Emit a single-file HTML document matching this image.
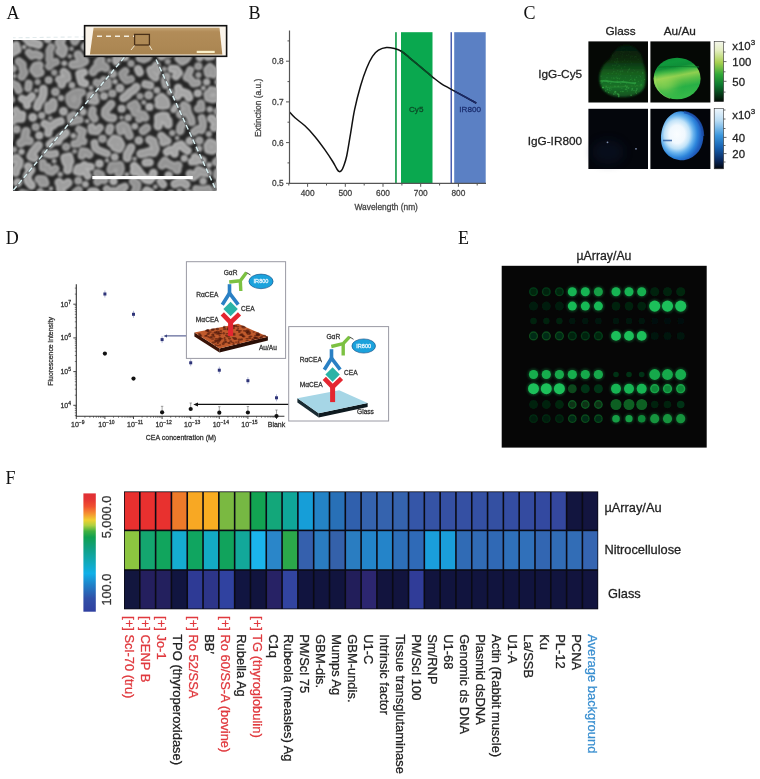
<!DOCTYPE html>
<html><head><meta charset="utf-8"><style>html,body{margin:0;padding:0;background:#fff;width:760px;height:779px;overflow:hidden}svg{display:block;filter:blur(0.4px)}</style></head><body>
<svg width="760" height="779" viewBox="0 0 760 779">
<defs>

<filter id="blur5" x="-50%" y="-50%" width="200%" height="200%"><feGaussianBlur stdDeviation="5"/></filter>
<filter id="blur1"><feGaussianBlur stdDeviation="1"/></filter>
<filter id="blur07"><feGaussianBlur stdDeviation="0.75"/></filter>
<filter id="blur09"><feGaussianBlur stdDeviation="0.95"/></filter>
<filter id="blur05"><feGaussianBlur stdDeviation="0.5"/></filter>
<filter id="blur2" x="-50%" y="-50%" width="200%" height="200%"><feGaussianBlur stdDeviation="2"/></filter>
<linearGradient id="cb1" x1="0" y1="0" x2="0" y2="1">
  <stop offset="0" stop-color="#f4f6ec"/>
  <stop offset="0.15" stop-color="#e4eec0"/>
  <stop offset="0.35" stop-color="#a8d050"/>
  <stop offset="0.55" stop-color="#30a838"/>
  <stop offset="0.72" stop-color="#0c7a30"/>
  <stop offset="0.88" stop-color="#063a18"/>
  <stop offset="1" stop-color="#020a04"/>
</linearGradient>
<linearGradient id="cb2" x1="0" y1="0" x2="0" y2="1">
  <stop offset="0" stop-color="#eef6fc"/>
  <stop offset="0.2" stop-color="#b8dcf4"/>
  <stop offset="0.45" stop-color="#3a96dc"/>
  <stop offset="0.65" stop-color="#1660b0"/>
  <stop offset="0.85" stop-color="#0a2a60"/>
  <stop offset="1" stop-color="#02060e"/>
</linearGradient>
<linearGradient id="cbF" x1="0" y1="0" x2="0" y2="1">
  <stop offset="0" stop-color="#e03035"/>
  <stop offset="0.05" stop-color="#e43434"/>
  <stop offset="0.11" stop-color="#f05030"/>
  <stop offset="0.17" stop-color="#f59030"/>
  <stop offset="0.225" stop-color="#f0d030"/>
  <stop offset="0.27" stop-color="#b0d040"/>
  <stop offset="0.32" stop-color="#40b040"/>
  <stop offset="0.37" stop-color="#10a050"/>
  <stop offset="0.46" stop-color="#10a080"/>
  <stop offset="0.56" stop-color="#10a8b0"/>
  <stop offset="0.676" stop-color="#10b0e8"/>
  <stop offset="0.775" stop-color="#2080c8"/>
  <stop offset="0.887" stop-color="#3050a8"/>
  <stop offset="1" stop-color="#3040a0"/>
</linearGradient>
<linearGradient id="au5" x1="0" y1="0" x2="0.22" y2="1">
  <stop offset="0" stop-color="#0c8a34"/>
  <stop offset="0.18" stop-color="#10983c"/>
  <stop offset="0.3" stop-color="#0e8e38"/>
  <stop offset="0.4" stop-color="#38b444"/>
  <stop offset="0.52" stop-color="#90d050"/>
  <stop offset="0.64" stop-color="#5cc048"/>
  <stop offset="0.8" stop-color="#28b046"/>
  <stop offset="1" stop-color="#34b848"/>
</linearGradient>
<radialGradient id="au8" cx="0.38" cy="0.47" r="0.66">
  <stop offset="0" stop-color="#fafdff"/>
  <stop offset="0.28" stop-color="#f0f8fe"/>
  <stop offset="0.45" stop-color="#c0e2f8"/>
  <stop offset="0.58" stop-color="#6ab4ee"/>
  <stop offset="0.72" stop-color="#2e86dc"/>
  <stop offset="0.85" stop-color="#2060c0"/>
  <stop offset="1" stop-color="#1a4aa0"/>
</radialGradient>
<linearGradient id="gl5" x1="0" y1="0" x2="0" y2="1">
  <stop offset="0" stop-color="#051806"/>
  <stop offset="0.3" stop-color="#0a2c0e"/>
  <stop offset="0.55" stop-color="#15601f"/>
  <stop offset="0.8" stop-color="#1a7228"/>
  <stop offset="1" stop-color="#125020"/>
</linearGradient>


<clipPath id="semclip"><rect x="13" y="40" width="203.5" height="151"/></clipPath>
<linearGradient id="slide" x1="0" y1="0" x2="0" y2="1"><stop offset="0" stop-color="#c4a474"/><stop offset="0.15" stop-color="#b28c58"/><stop offset="0.7" stop-color="#ad8854"/><stop offset="1" stop-color="#a88450"/></linearGradient>
<clipPath id="cpg"><rect x="401" y="30" width="31.5" height="160"/></clipPath><clipPath id="cpb"><rect x="454.2" y="30" width="31.5" height="160"/></clipPath>
<clipPath id="cpau5"><ellipse cx="677.1" cy="78.5" rx="23.5" ry="20.8"/></clipPath></defs>
<rect width="760" height="779" fill="#fff"/>
<text x="6.6" y="18.8" font-family="'Liberation Serif', serif" font-size="18" fill="#111">A</text>
<text x="248.4" y="18.8" font-family="'Liberation Serif', serif" font-size="18" fill="#111">B</text>
<text x="523.4" y="18.8" font-family="'Liberation Serif', serif" font-size="18" fill="#111">C</text>
<text x="5.8" y="243.6" font-family="'Liberation Serif', serif" font-size="18" fill="#111">D</text>
<text x="458.0" y="243.7" font-family="'Liberation Serif', serif" font-size="18" fill="#111">E</text>
<text x="5.6" y="483.7" font-family="'Liberation Serif', serif" font-size="18" fill="#111">F</text>
<g clip-path="url(#semclip)"><rect x="13" y="40" width="203.5" height="151" fill="#262626"/><g filter="url(#blur09)" stroke-linecap="round" stroke-linejoin="round" fill="none">
<path d="M140.7 153.9 L144.2 153.2 L148.9 151.7 L153.7 152.6 L155.5 148.9 L153.7 144.9 L153.2 141.4 L149.6 139.7" stroke="rgb(172,172,172)" stroke-width="8.9"/><path d="M140.7 153.9 L144.2 153.2 L148.9 151.7 L153.7 152.6 L155.5 148.9 L153.7 144.9 L153.2 141.4 L149.6 139.7" stroke="rgb(156,156,156)" stroke-width="4.4"/>
<path d="M42.8 162.7 L42.9 167.7 L47.5 167.1 L48.0 170.8 L51.8 171.9 L55.4 168.7" stroke="rgb(165,165,165)" stroke-width="8.0"/><path d="M42.8 162.7 L42.9 167.7 L47.5 167.1 L48.0 170.8 L51.8 171.9 L55.4 168.7" stroke="rgb(149,149,149)" stroke-width="3.8"/>
<path d="M208.0 145.8 L208.6 149.5 L212.2 150.2 L216.1 148.2 L213.6 144.5 L209.9 142.8" stroke="rgb(175,175,175)" stroke-width="9.2"/><path d="M208.0 145.8 L208.6 149.5 L212.2 150.2 L216.1 148.2 L213.6 144.5 L209.9 142.8" stroke="rgb(159,159,159)" stroke-width="4.5"/>
<path d="M156.3 65.4 L154.9 68.6 L150.4 70.1 L152.1 74.5 L155.4 77.4 M154.9 68.6 L157.0 71.7" stroke="rgb(174,174,174)" stroke-width="8.5"/><path d="M156.3 65.4 L154.9 68.6 L150.4 70.1 L152.1 74.5 L155.4 77.4 M154.9 68.6 L157.0 71.7" stroke="rgb(158,158,158)" stroke-width="4.1"/>
<path d="M81.8 92.4 L77.2 92.1 L73.5 93.5 L69.4 96.4 L69.6 100.6 L71.3 103.9 L75.7 105.3 L77.8 101.3 M77.2 92.1 L77.9 97.0" stroke="rgb(161,161,161)" stroke-width="8.5"/><path d="M81.8 92.4 L77.2 92.1 L73.5 93.5 L69.4 96.4 L69.6 100.6 L71.3 103.9 L75.7 105.3 L77.8 101.3 M77.2 92.1 L77.9 97.0" stroke="rgb(145,145,145)" stroke-width="4.1"/>
<path d="M26.1 131.5 L25.0 136.1 L24.6 140.2 L29.4 140.9 M24.6 140.2 L20.7 143.2" stroke="rgb(164,164,164)" stroke-width="9.1"/><path d="M26.1 131.5 L25.0 136.1 L24.6 140.2 L29.4 140.9 M24.6 140.2 L20.7 143.2" stroke="rgb(148,148,148)" stroke-width="4.5"/>
<path d="M100.9 59.7 L97.9 63.0 L99.4 67.0 L95.2 68.6 L93.1 71.9 M97.9 63.0 L102.3 65.2 L105.6 67.8" stroke="rgb(162,162,162)" stroke-width="9.0"/><path d="M100.9 59.7 L97.9 63.0 L99.4 67.0 L95.2 68.6 L93.1 71.9 M97.9 63.0 L102.3 65.2 L105.6 67.8" stroke="rgb(146,146,146)" stroke-width="4.4"/>
<path d="M113.0 117.9 L108.4 117.4 L105.1 114.3 L105.4 110.3 L108.2 107.5 L111.2 104.0" stroke="rgb(169,169,169)" stroke-width="8.6"/><path d="M113.0 117.9 L108.4 117.4 L105.1 114.3 L105.4 110.3 L108.2 107.5 L111.2 104.0" stroke="rgb(153,153,153)" stroke-width="4.2"/>
<path d="M211.4 90.1 L215.2 91.0 L218.0 94.0 L216.6 98.3 L212.7 99.2 L208.2 98.1 L207.4 94.1 L211.4 91.4" stroke="rgb(171,171,171)" stroke-width="8.1"/><path d="M211.4 90.1 L215.2 91.0 L218.0 94.0 L216.6 98.3 L212.7 99.2 L208.2 98.1 L207.4 94.1 L211.4 91.4" stroke="rgb(155,155,155)" stroke-width="3.9"/>
<path d="M211.3 118.4 L214.7 121.7 L218.3 121.9 L221.7 124.3 L224.2 128.5 M218.3 121.9 L217.2 125.6 L213.9 127.5" stroke="rgb(179,179,179)" stroke-width="8.5"/><path d="M211.3 118.4 L214.7 121.7 L218.3 121.9 L221.7 124.3 L224.2 128.5 M218.3 121.9 L217.2 125.6 L213.9 127.5" stroke="rgb(163,163,163)" stroke-width="4.1"/>
<path d="M142.4 42.7 L139.8 45.2 L136.9 42.1 L134.6 38.7 L130.7 36.6 M139.8 45.2 L139.5 48.7" stroke="rgb(168,168,168)" stroke-width="8.5"/><path d="M142.4 42.7 L139.8 45.2 L136.9 42.1 L134.6 38.7 L130.7 36.6 M139.8 45.2 L139.5 48.7" stroke="rgb(152,152,152)" stroke-width="4.1"/>
<path d="M190.0 173.8 L193.2 176.8 L196.7 174.4 L198.5 170.4 L202.9 172.3 L207.5 172.9" stroke="rgb(171,171,171)" stroke-width="8.8"/><path d="M190.0 173.8 L193.2 176.8 L196.7 174.4 L198.5 170.4 L202.9 172.3 L207.5 172.9" stroke="rgb(155,155,155)" stroke-width="4.3"/>
<path d="M28.2 166.6 L31.0 170.0 L28.5 173.3 L26.9 176.7 L28.2 181.5 L31.4 185.3" stroke="rgb(179,179,179)" stroke-width="8.7"/><path d="M28.2 166.6 L31.0 170.0 L28.5 173.3 L26.9 176.7 L28.2 181.5 L31.4 185.3" stroke="rgb(163,163,163)" stroke-width="4.2"/>
<path d="M62.1 39.1 L59.1 42.1 L61.2 46.0 L63.7 49.0 L62.4 53.6 M63.7 49.0 L59.7 51.4" stroke="rgb(168,168,168)" stroke-width="9.1"/><path d="M62.1 39.1 L59.1 42.1 L61.2 46.0 L63.7 49.0 L62.4 53.6 M63.7 49.0 L59.7 51.4" stroke="rgb(152,152,152)" stroke-width="4.5"/>
<path d="M187.5 150.7 L183.8 148.2 L181.1 144.5 L176.7 146.1 L174.5 149.8 L174.6 153.7 M174.5 149.8 L169.8 149.8 L166.9 151.8" stroke="rgb(181,181,181)" stroke-width="8.2"/><path d="M187.5 150.7 L183.8 148.2 L181.1 144.5 L176.7 146.1 L174.5 149.8 L174.6 153.7 M174.5 149.8 L169.8 149.8 L166.9 151.8" stroke="rgb(165,165,165)" stroke-width="4.0"/>
<path d="M12.1 159.8 L16.2 158.0 L19.5 161.4 L18.7 165.7 L16.0 169.0 L15.8 172.7" stroke="rgb(175,175,175)" stroke-width="8.4"/><path d="M12.1 159.8 L16.2 158.0 L19.5 161.4 L18.7 165.7 L16.0 169.0 L15.8 172.7" stroke="rgb(159,159,159)" stroke-width="4.1"/>
<path d="M123.5 43.7 L119.3 42.0 L117.6 38.8 L120.0 35.8 L119.8 30.9 M120.0 35.8 L116.8 34.0" stroke="rgb(177,177,177)" stroke-width="8.8"/><path d="M123.5 43.7 L119.3 42.0 L117.6 38.8 L120.0 35.8 L119.8 30.9 M120.0 35.8 L116.8 34.0" stroke="rgb(161,161,161)" stroke-width="4.3"/>
<path d="M31.9 96.3 L29.2 99.4 L26.0 100.8 L27.1 105.2 M26.0 100.8 L22.0 98.6" stroke="rgb(180,180,180)" stroke-width="7.9"/><path d="M31.9 96.3 L29.2 99.4 L26.0 100.8 L27.1 105.2 M26.0 100.8 L22.0 98.6" stroke="rgb(164,164,164)" stroke-width="3.8"/>
<path d="M125.3 71.1 L122.0 73.8 L123.4 77.4 L126.7 80.6 L131.0 79.1" stroke="rgb(162,162,162)" stroke-width="7.9"/><path d="M125.3 71.1 L122.0 73.8 L123.4 77.4 L126.7 80.6 L131.0 79.1" stroke="rgb(146,146,146)" stroke-width="3.8"/>
<path d="M106.8 189.2 L108.9 192.1 L113.7 190.9 L117.3 192.3 L120.3 188.4 L124.7 186.7 M120.3 188.4 L122.4 191.8" stroke="rgb(171,171,171)" stroke-width="8.0"/><path d="M106.8 189.2 L108.9 192.1 L113.7 190.9 L117.3 192.3 L120.3 188.4 L124.7 186.7 M120.3 188.4 L122.4 191.8" stroke="rgb(155,155,155)" stroke-width="3.8"/>
<path d="M177.4 96.1 L179.0 92.3 L183.2 92.4 L187.4 93.8 L189.0 97.5 M179.0 92.3 L178.3 88.1" stroke="rgb(181,181,181)" stroke-width="8.8"/><path d="M177.4 96.1 L179.0 92.3 L183.2 92.4 L187.4 93.8 L189.0 97.5 M179.0 92.3 L178.3 88.1" stroke="rgb(165,165,165)" stroke-width="4.3"/>
<path d="M169.8 36.1 L171.7 32.3 L169.3 28.6 L165.0 30.7 L162.1 27.7 L160.0 24.7" stroke="rgb(169,169,169)" stroke-width="8.5"/><path d="M169.8 36.1 L171.7 32.3 L169.3 28.6 L165.0 30.7 L162.1 27.7 L160.0 24.7" stroke="rgb(153,153,153)" stroke-width="4.1"/>
<path d="M81.8 155.6 L82.7 151.4 L86.3 152.0 L89.3 154.6" stroke="rgb(165,165,165)" stroke-width="8.2"/><path d="M81.8 155.6 L82.7 151.4 L86.3 152.0 L89.3 154.6" stroke="rgb(149,149,149)" stroke-width="4.0"/>
<path d="M85.4 46.6 L89.9 47.3 L89.6 51.7 L93.2 51.6 L93.1 47.3 L97.4 47.6 M89.9 47.3 L93.4 46.2" stroke="rgb(181,181,181)" stroke-width="9.2"/><path d="M85.4 46.6 L89.9 47.3 L89.6 51.7 L93.2 51.6 L93.1 47.3 L97.4 47.6 M89.9 47.3 L93.4 46.2" stroke="rgb(165,165,165)" stroke-width="4.5"/>
<path d="M21.7 76.6 L24.4 72.5 L22.5 68.4 L22.6 64.6 L18.8 61.5" stroke="rgb(162,162,162)" stroke-width="8.4"/><path d="M21.7 76.6 L24.4 72.5 L22.5 68.4 L22.6 64.6 L18.8 61.5" stroke="rgb(146,146,146)" stroke-width="4.1"/>
<path d="M190.2 70.1 L188.3 74.3 L186.6 77.6 L190.8 79.4 L193.3 83.6 L197.4 82.8" stroke="rgb(168,168,168)" stroke-width="7.8"/><path d="M190.2 70.1 L188.3 74.3 L186.6 77.6 L190.8 79.4 L193.3 83.6 L197.4 82.8" stroke="rgb(152,152,152)" stroke-width="3.8"/>
<path d="M99.7 127.7 L96.8 131.3 L92.0 130.8 L91.5 127.2" stroke="rgb(172,172,172)" stroke-width="8.1"/><path d="M99.7 127.7 L96.8 131.3 L92.0 130.8 L91.5 127.2" stroke="rgb(156,156,156)" stroke-width="3.9"/>
<path d="M168.1 124.4 L167.9 120.9 L163.6 119.5 L162.5 116.2 L158.5 117.3 L158.8 122.0 L158.1 126.0 M163.6 119.5 L165.6 116.2" stroke="rgb(177,177,177)" stroke-width="9.1"/><path d="M168.1 124.4 L167.9 120.9 L163.6 119.5 L162.5 116.2 L158.5 117.3 L158.8 122.0 L158.1 126.0 M163.6 119.5 L165.6 116.2" stroke="rgb(161,161,161)" stroke-width="4.4"/>
<path d="M183.8 105.3 L187.0 107.3 L187.5 111.4 L188.9 115.1 L190.9 118.4 L191.7 122.1 M187.5 111.4 L184.0 111.5 L180.1 114.3" stroke="rgb(166,166,166)" stroke-width="8.2"/><path d="M183.8 105.3 L187.0 107.3 L187.5 111.4 L188.9 115.1 L190.9 118.4 L191.7 122.1 M187.5 111.4 L184.0 111.5 L180.1 114.3" stroke="rgb(150,150,150)" stroke-width="3.9"/>
<path d="M215.8 41.2 L212.9 38.2 L208.3 39.3 L205.6 42.6 L200.9 42.6 L196.7 44.6" stroke="rgb(181,181,181)" stroke-width="8.6"/><path d="M215.8 41.2 L212.9 38.2 L208.3 39.3 L205.6 42.6 L200.9 42.6 L196.7 44.6" stroke="rgb(165,165,165)" stroke-width="4.2"/>
<path d="M153.4 173.2 L152.3 176.7 L149.5 180.2 L146.0 179.5 L142.9 176.4 L140.0 173.3 L137.5 169.6 L134.2 166.2 M137.5 169.6 L134.0 171.6" stroke="rgb(181,181,181)" stroke-width="8.7"/><path d="M153.4 173.2 L152.3 176.7 L149.5 180.2 L146.0 179.5 L142.9 176.4 L140.0 173.3 L137.5 169.6 L134.2 166.2 M137.5 169.6 L134.0 171.6" stroke="rgb(165,165,165)" stroke-width="4.2"/>
<path d="M171.8 68.9 L176.2 69.1 L178.9 72.8 L175.9 76.2" stroke="rgb(179,179,179)" stroke-width="8.2"/><path d="M171.8 68.9 L176.2 69.1 L178.9 72.8 L175.9 76.2" stroke="rgb(163,163,163)" stroke-width="4.0"/>
<path d="M138.2 69.2 L139.7 72.4" stroke="rgb(179,179,179)" stroke-width="8.5"/><path d="M138.2 69.2 L139.7 72.4" stroke="rgb(163,163,163)" stroke-width="4.1"/>
<path d="M129.5 135.6 L127.8 131.8 L126.3 127.2 L123.0 125.1 L119.9 126.8 L120.8 131.0" stroke="rgb(165,165,165)" stroke-width="8.7"/><path d="M129.5 135.6 L127.8 131.8 L126.3 127.2 L123.0 125.1 L119.9 126.8 L120.8 131.0" stroke="rgb(149,149,149)" stroke-width="4.2"/>
<path d="M100.8 87.8 L102.2 84.5 L103.8 80.1 L107.6 81.4 L107.8 85.8 L104.0 86.5 L99.8 84.2 L96.5 82.7" stroke="rgb(163,163,163)" stroke-width="7.9"/><path d="M100.8 87.8 L102.2 84.5 L103.8 80.1 L107.6 81.4 L107.8 85.8 L104.0 86.5 L99.8 84.2 L96.5 82.7" stroke="rgb(147,147,147)" stroke-width="3.8"/>
<path d="M130.6 106.1 L134.9 103.8 L137.1 107.6 L133.9 109.4 L135.0 112.8 L138.9 114.0 L143.4 114.6 L145.4 117.6 M138.9 114.0 L139.2 118.9" stroke="rgb(164,164,164)" stroke-width="8.3"/><path d="M130.6 106.1 L134.9 103.8 L137.1 107.6 L133.9 109.4 L135.0 112.8 L138.9 114.0 L143.4 114.6 L145.4 117.6 M138.9 114.0 L139.2 118.9" stroke="rgb(148,148,148)" stroke-width="4.0"/>
<path d="M114.5 146.8 L119.1 148.6 L120.9 144.9 L118.6 140.5 L114.2 139.1 L111.1 143.0 M114.2 139.1 L115.1 143.8" stroke="rgb(174,174,174)" stroke-width="8.9"/><path d="M114.5 146.8 L119.1 148.6 L120.9 144.9 L118.6 140.5 L114.2 139.1 L111.1 143.0 M114.2 139.1 L115.1 143.8" stroke="rgb(158,158,158)" stroke-width="4.3"/>
<path d="M84.2 164.9 L83.0 168.2 L80.3 172.3 L76.8 171.4 L77.9 167.8 L81.3 166.9 L86.1 166.0 L90.8 166.8 M83.0 168.2 L85.4 171.6 L87.7 175.8" stroke="rgb(180,180,180)" stroke-width="7.8"/><path d="M84.2 164.9 L83.0 168.2 L80.3 172.3 L76.8 171.4 L77.9 167.8 L81.3 166.9 L86.1 166.0 L90.8 166.8 M83.0 168.2 L85.4 171.6 L87.7 175.8" stroke="rgb(164,164,164)" stroke-width="3.7"/>
<path d="M162.0 165.2 L164.9 161.1 L167.7 163.7 L171.2 165.5 L174.9 166.9 L177.1 169.8 M174.9 166.9 L178.1 165.4" stroke="rgb(164,164,164)" stroke-width="9.0"/><path d="M162.0 165.2 L164.9 161.1 L167.7 163.7 L171.2 165.5 L174.9 166.9 L177.1 169.8 M174.9 166.9 L178.1 165.4" stroke="rgb(148,148,148)" stroke-width="4.4"/>
<path d="M59.0 182.3 L60.5 185.6 L65.0 185.2 L68.0 182.8 M60.5 185.6 L60.6 189.7 L62.3 194.3" stroke="rgb(174,174,174)" stroke-width="9.1"/><path d="M59.0 182.3 L60.5 185.6 L65.0 185.2 L68.0 182.8 M60.5 185.6 L60.6 189.7 L62.3 194.3" stroke="rgb(158,158,158)" stroke-width="4.5"/>
<path d="M213.3 74.3 L213.4 70.2 L209.9 67.3 L207.5 69.9 L208.3 73.6" stroke="rgb(167,167,167)" stroke-width="8.6"/><path d="M213.3 74.3 L213.4 70.2 L209.9 67.3 L207.5 69.9 L208.3 73.6" stroke="rgb(151,151,151)" stroke-width="4.2"/>
<path d="M176.7 44.9 L180.5 42.2 L184.3 40.4 L183.5 36.8" stroke="rgb(178,178,178)" stroke-width="8.5"/><path d="M176.7 44.9 L180.5 42.2 L184.3 40.4 L183.5 36.8" stroke="rgb(162,162,162)" stroke-width="4.1"/>
<path d="M209.9 193.1 L208.2 188.9 L204.6 190.2 L200.9 189.8 L196.3 189.2 M204.6 190.2 L204.2 194.4" stroke="rgb(166,166,166)" stroke-width="8.2"/><path d="M209.9 193.1 L208.2 188.9 L204.6 190.2 L200.9 189.8 L196.3 189.2 M204.6 190.2 L204.2 194.4" stroke="rgb(150,150,150)" stroke-width="4.0"/>
<path d="M39.4 55.8 L35.4 54.0 L31.8 55.7 L29.0 52.6" stroke="rgb(165,165,165)" stroke-width="8.2"/><path d="M39.4 55.8 L35.4 54.0 L31.8 55.7 L29.0 52.6" stroke="rgb(149,149,149)" stroke-width="3.9"/>
<path d="M44.6 123.8 L47.9 125.7 L52.8 125.8 L56.0 122.7 L60.7 121.3 M47.9 125.7 L48.9 129.5 L48.3 133.2" stroke="rgb(177,177,177)" stroke-width="8.2"/><path d="M44.6 123.8 L47.9 125.7 L52.8 125.8 L56.0 122.7 L60.7 121.3 M47.9 125.7 L48.9 129.5 L48.3 133.2" stroke="rgb(161,161,161)" stroke-width="3.9"/>
<path d="M72.8 64.6 L76.8 64.3 L80.4 63.5 L84.7 61.2 M80.4 63.5 L80.5 58.5 L78.1 54.7" stroke="rgb(166,166,166)" stroke-width="9.1"/><path d="M72.8 64.6 L76.8 64.3 L80.4 63.5 L84.7 61.2 M80.4 63.5 L80.5 58.5 L78.1 54.7" stroke="rgb(150,150,150)" stroke-width="4.5"/>
<path d="M38.5 44.5 L34.1 43.1 L30.3 42.6 L27.8 39.6 L24.5 36.5 L25.3 32.4 M27.8 39.6 L31.0 36.4 L31.9 31.8" stroke="rgb(178,178,178)" stroke-width="9.1"/><path d="M38.5 44.5 L34.1 43.1 L30.3 42.6 L27.8 39.6 L24.5 36.5 L25.3 32.4 M27.8 39.6 L31.0 36.4 L31.9 31.8" stroke="rgb(162,162,162)" stroke-width="4.5"/>
<path d="M110.8 169.9 L112.1 166.1 L115.8 166.3 L119.8 165.3 L120.5 168.9 L118.9 173.3" stroke="rgb(160,160,160)" stroke-width="9.0"/><path d="M110.8 169.9 L112.1 166.1 L115.8 166.3 L119.8 165.3 L120.5 168.9 L118.9 173.3" stroke="rgb(144,144,144)" stroke-width="4.4"/>
<path d="M119.9 88.1 l0.1 0" stroke="rgb(172,172,172)" stroke-width="8.8"/><path d="M119.9 88.1 l0.1 0" stroke="rgb(156,156,156)" stroke-width="4.3"/>
<path d="M97.3 173.3 L100.7 174.7 L99.5 178.5 L97.5 181.8 M99.5 178.5 L104.1 179.9" stroke="rgb(160,160,160)" stroke-width="8.7"/><path d="M97.3 173.3 L100.7 174.7 L99.5 178.5 L97.5 181.8 M99.5 178.5 L104.1 179.9" stroke="rgb(144,144,144)" stroke-width="4.2"/>
<path d="M49.1 66.2 L52.0 63.5 L49.3 59.7 L49.6 55.3 L49.3 50.9 L51.2 47.2 M52.0 63.5 L55.8 62.0" stroke="rgb(160,160,160)" stroke-width="8.0"/><path d="M49.1 66.2 L52.0 63.5 L49.3 59.7 L49.6 55.3 L49.3 50.9 L51.2 47.2 M52.0 63.5 L55.8 62.0" stroke="rgb(144,144,144)" stroke-width="3.9"/>
<path d="M16.1 45.2 L17.4 50.0 L13.4 52.1 L10.1 54.6 L5.7 53.5 L5.3 49.0 L8.7 45.7 L12.5 48.5 M8.7 45.7 L9.0 49.6" stroke="rgb(181,181,181)" stroke-width="8.1"/><path d="M16.1 45.2 L17.4 50.0 L13.4 52.1 L10.1 54.6 L5.7 53.5 L5.3 49.0 L8.7 45.7 L12.5 48.5 M8.7 45.7 L9.0 49.6" stroke="rgb(165,165,165)" stroke-width="3.9"/>
<path d="M158.9 104.8 L162.6 105.3 L166.2 104.9 L165.2 100.7 L161.6 97.4 L158.7 99.7 L161.3 102.2" stroke="rgb(175,175,175)" stroke-width="8.9"/><path d="M158.9 104.8 L162.6 105.3 L166.2 104.9 L165.2 100.7 L161.6 97.4 L158.7 99.7 L161.3 102.2" stroke="rgb(159,159,159)" stroke-width="4.4"/>
<path d="M78.6 190.1 L74.9 193.0 L75.0 197.0 L71.8 198.7 L73.2 203.1 L75.6 206.3" stroke="rgb(161,161,161)" stroke-width="8.4"/><path d="M78.6 190.1 L74.9 193.0 L75.0 197.0 L71.8 198.7 L73.2 203.1 L75.6 206.3" stroke="rgb(145,145,145)" stroke-width="4.1"/>
<path d="M74.5 143.8 L78.1 143.5 L80.1 140.1 L81.3 135.8 L82.9 131.3 L79.2 129.5 M80.1 140.1 L83.5 141.3" stroke="rgb(166,166,166)" stroke-width="8.0"/><path d="M74.5 143.8 L78.1 143.5 L80.1 140.1 L81.3 135.8 L82.9 131.3 L79.2 129.5 M80.1 140.1 L83.5 141.3" stroke="rgb(150,150,150)" stroke-width="3.8"/>
<path d="M163.1 184.5 L160.7 181.4" stroke="rgb(174,174,174)" stroke-width="8.0"/><path d="M163.1 184.5 L160.7 181.4" stroke="rgb(158,158,158)" stroke-width="3.8"/>
<path d="M201.7 118.0 L202.9 122.4 L202.9 126.6 L201.4 130.1 L198.0 129.0 L194.0 132.0" stroke="rgb(167,167,167)" stroke-width="8.0"/><path d="M201.7 118.0 L202.9 122.4 L202.9 126.6 L201.4 130.1 L198.0 129.0 L194.0 132.0" stroke="rgb(151,151,151)" stroke-width="3.8"/>
<path d="M169.5 53.3 L164.9 52.8 L164.7 48.1 L161.1 46.5 M164.9 52.8 L161.5 56.1" stroke="rgb(175,175,175)" stroke-width="8.8"/><path d="M169.5 53.3 L164.9 52.8 L164.7 48.1 L161.1 46.5 M164.9 52.8 L161.5 56.1" stroke="rgb(159,159,159)" stroke-width="4.3"/>
<path d="M48.5 110.1 L48.5 105.7 L53.5 105.5 L53.1 102.0 M48.5 105.7 L52.6 108.3" stroke="rgb(170,170,170)" stroke-width="8.6"/><path d="M48.5 110.1 L48.5 105.7 L53.5 105.5 L53.1 102.0 M48.5 105.7 L52.6 108.3" stroke="rgb(154,154,154)" stroke-width="4.2"/>
<path d="M37.3 106.9 L38.8 102.4 L41.9 98.6 L43.4 93.9 L43.4 89.0" stroke="rgb(177,177,177)" stroke-width="8.6"/><path d="M37.3 106.9 L38.8 102.4 L41.9 98.6 L43.4 93.9 L43.4 89.0" stroke="rgb(161,161,161)" stroke-width="4.2"/>
<path d="M22.1 193.2 L26.4 194.5 L29.9 197.3 L27.4 201.2 L23.1 202.5 L21.5 206.7" stroke="rgb(161,161,161)" stroke-width="8.4"/><path d="M22.1 193.2 L26.4 194.5 L29.9 197.3 L27.4 201.2 L23.1 202.5 L21.5 206.7" stroke="rgb(145,145,145)" stroke-width="4.0"/>
<path d="M170.8 193.9 L170.2 198.1 L172.5 201.1 L171.3 204.6 L170.8 209.2 L169.6 213.8 M172.5 201.1 L176.6 201.3 L179.5 198.7" stroke="rgb(182,182,182)" stroke-width="7.9"/><path d="M170.8 193.9 L170.2 198.1 L172.5 201.1 L171.3 204.6 L170.8 209.2 L169.6 213.8 M172.5 201.1 L176.6 201.3 L179.5 198.7" stroke="rgb(166,166,166)" stroke-width="3.8"/>
<path d="M161.3 135.8 L163.9 138.2 L167.5 141.0 M163.9 138.2 L163.3 142.4" stroke="rgb(175,175,175)" stroke-width="8.3"/><path d="M161.3 135.8 L163.9 138.2 L167.5 141.0 M163.9 138.2 L163.3 142.4" stroke="rgb(159,159,159)" stroke-width="4.0"/>
<path d="M63.7 72.1 L66.7 74.6 L67.3 78.1 L62.7 80.0 L59.2 79.4 M62.7 80.0 L61.7 84.4" stroke="rgb(173,173,173)" stroke-width="8.5"/><path d="M63.7 72.1 L66.7 74.6 L67.3 78.1 L62.7 80.0 L59.2 79.4 M62.7 80.0 L61.7 84.4" stroke="rgb(157,157,157)" stroke-width="4.1"/>
<path d="M186.1 184.6 L182.8 182.2 L178.5 182.3 L174.8 184.0" stroke="rgb(173,173,173)" stroke-width="8.8"/><path d="M186.1 184.6 L182.8 182.2 L178.5 182.3 L174.8 184.0" stroke="rgb(157,157,157)" stroke-width="4.3"/>
<path d="M84.9 83.4 L81.5 82.3 L80.3 78.1 L79.4 73.6 L83.7 72.4" stroke="rgb(181,181,181)" stroke-width="8.2"/><path d="M84.9 83.4 L81.5 82.3 L80.3 78.1 L79.4 73.6 L83.7 72.4" stroke="rgb(165,165,165)" stroke-width="4.0"/>
<path d="M136.2 87.1 L133.3 90.3 L129.5 92.5 L127.2 95.4 L123.4 98.0" stroke="rgb(175,175,175)" stroke-width="8.7"/><path d="M136.2 87.1 L133.3 90.3 L129.5 92.5 L127.2 95.4 L123.4 98.0" stroke="rgb(159,159,159)" stroke-width="4.2"/>
<path d="M144.8 193.5 L146.8 190.5 L150.5 192.4 L150.4 196.4 L149.0 200.0 L145.8 198.2" stroke="rgb(181,181,181)" stroke-width="8.3"/><path d="M144.8 193.5 L146.8 190.5 L150.5 192.4 L150.4 196.4 L149.0 200.0 L145.8 198.2" stroke="rgb(165,165,165)" stroke-width="4.0"/>
<path d="M74.6 41.6 L77.0 37.9 L74.8 34.8 L74.1 31.3 L70.2 32.5 L66.8 29.8 L65.0 25.8 L67.3 23.0 M77.0 37.9 L72.5 37.4" stroke="rgb(163,163,163)" stroke-width="8.4"/><path d="M74.6 41.6 L77.0 37.9 L74.8 34.8 L74.1 31.3 L70.2 32.5 L66.8 29.8 L65.0 25.8 L67.3 23.0 M77.0 37.9 L72.5 37.4" stroke="rgb(147,147,147)" stroke-width="4.1"/>
<path d="M148.7 95.2 l0.1 0" stroke="rgb(167,167,167)" stroke-width="8.9"/><path d="M148.7 95.2 l0.1 0" stroke="rgb(151,151,151)" stroke-width="4.3"/>
<path d="M18.6 90.1 L16.8 85.9 L12.9 83.7 L8.5 81.5" stroke="rgb(168,168,168)" stroke-width="8.1"/><path d="M18.6 90.1 L16.8 85.9 L12.9 83.7 L8.5 81.5" stroke="rgb(152,152,152)" stroke-width="3.9"/>
<path d="M116.4 61.5 L116.6 57.1 L120.9 55.9 L125.0 56.9" stroke="rgb(180,180,180)" stroke-width="8.3"/><path d="M116.4 61.5 L116.6 57.1 L120.9 55.9 L125.0 56.9" stroke="rgb(164,164,164)" stroke-width="4.0"/>
<path d="M102.3 37.5 L99.9 34.7 L99.5 30.8 L98.9 26.7 M99.9 34.7 L104.6 33.7" stroke="rgb(171,171,171)" stroke-width="8.0"/><path d="M102.3 37.5 L99.9 34.7 L99.5 30.8 L98.9 26.7 M99.9 34.7 L104.6 33.7" stroke="rgb(155,155,155)" stroke-width="3.9"/>
<path d="M49.7 144.6 L53.4 141.3 L58.3 141.2 L59.5 137.7 L62.9 135.4 L65.8 132.8" stroke="rgb(181,181,181)" stroke-width="8.3"/><path d="M49.7 144.6 L53.4 141.3 L58.3 141.2 L59.5 137.7 L62.9 135.4 L65.8 132.8" stroke="rgb(165,165,165)" stroke-width="4.0"/>
<path d="M92.7 110.0 L91.8 114.6 L94.6 118.6" stroke="rgb(166,166,166)" stroke-width="8.3"/><path d="M92.7 110.0 L91.8 114.6 L94.6 118.6" stroke="rgb(150,150,150)" stroke-width="4.0"/>
<path d="M73.6 115.1 L70.6 117.1 L71.6 121.7 L75.6 120.6 L79.6 119.7" stroke="rgb(165,165,165)" stroke-width="8.0"/><path d="M73.6 115.1 L70.6 117.1 L71.6 121.7 L75.6 120.6 L79.6 119.7" stroke="rgb(149,149,149)" stroke-width="3.8"/>
<path d="M45.2 183.0 L43.6 179.5 L38.8 179.2 M43.6 179.5 L41.8 183.2" stroke="rgb(165,165,165)" stroke-width="8.6"/><path d="M45.2 183.0 L43.6 179.5 L38.8 179.2 M43.6 179.5 L41.8 183.2" stroke="rgb(149,149,149)" stroke-width="4.2"/>
<path d="M9.5 135.3 L8.9 139.2 L5.2 142.2 L6.0 146.2 L2.2 147.2 L2.2 151.1" stroke="rgb(171,171,171)" stroke-width="8.3"/><path d="M9.5 135.3 L8.9 139.2 L5.2 142.2 L6.0 146.2 L2.2 147.2 L2.2 151.1" stroke="rgb(155,155,155)" stroke-width="4.0"/>
<path d="M143.2 130.7 L146.6 128.0" stroke="rgb(163,163,163)" stroke-width="9.1"/><path d="M143.2 130.7 L146.6 128.0" stroke="rgb(147,147,147)" stroke-width="4.4"/>
<path d="M16.0 110.7 L18.3 114.6 L22.2 114.6 L21.7 118.9 L16.8 118.7 L12.2 119.2 M18.3 114.6 L15.9 118.7 L12.7 121.3" stroke="rgb(179,179,179)" stroke-width="7.9"/><path d="M16.0 110.7 L18.3 114.6 L22.2 114.6 L21.7 118.9 L16.8 118.7 L12.2 119.2 M18.3 114.6 L15.9 118.7 L12.7 121.3" stroke="rgb(163,163,163)" stroke-width="3.8"/>
<path d="M133.2 181.5 L137.1 184.5 L136.5 188.1 L134.9 192.2 L131.8 196.0 L134.7 198.4" stroke="rgb(162,162,162)" stroke-width="8.7"/><path d="M133.2 181.5 L137.1 184.5 L136.5 188.1 L134.9 192.2 L131.8 196.0 L134.7 198.4" stroke="rgb(146,146,146)" stroke-width="4.3"/>
<path d="M168.6 175.2 l0.1 0" stroke="rgb(177,177,177)" stroke-width="8.1"/><path d="M168.6 175.2 l0.1 0" stroke="rgb(161,161,161)" stroke-width="3.9"/>
<path d="M39.3 65.4 L35.6 66.0 L33.6 69.8 L36.8 73.6 L40.3 72.3 M33.6 69.8 L38.5 69.6" stroke="rgb(166,166,166)" stroke-width="8.8"/><path d="M39.3 65.4 L35.6 66.0 L33.6 69.8 L36.8 73.6 L40.3 72.3 M33.6 69.8 L38.5 69.6" stroke="rgb(150,150,150)" stroke-width="4.3"/>
<path d="M150.8 48.9 L148.9 53.4 L147.7 57.4 L143.8 59.2 L139.8 58.0" stroke="rgb(166,166,166)" stroke-width="8.5"/><path d="M150.8 48.9 L148.9 53.4 L147.7 57.4 L143.8 59.2 L139.8 58.0" stroke="rgb(150,150,150)" stroke-width="4.1"/>
<path d="M55.1 153.6 L50.2 154.7 L45.7 153.5" stroke="rgb(172,172,172)" stroke-width="8.0"/><path d="M55.1 153.6 L50.2 154.7 L45.7 153.5" stroke="rgb(156,156,156)" stroke-width="3.8"/>
<path d="M11.4 194.4 L7.4 194.9 L4.5 191.6 L6.9 187.5 L7.5 183.9" stroke="rgb(168,168,168)" stroke-width="7.9"/><path d="M11.4 194.4 L7.4 194.9 L4.5 191.6 L6.9 187.5 L7.5 183.9" stroke="rgb(152,152,152)" stroke-width="3.8"/>
<path d="M197.9 108.7 L201.4 108.2 L200.8 103.5" stroke="rgb(163,163,163)" stroke-width="8.3"/><path d="M197.9 108.7 L201.4 108.2 L200.8 103.5" stroke="rgb(147,147,147)" stroke-width="4.0"/>
<path d="M55.3 91.8 l0.1 0" stroke="rgb(165,165,165)" stroke-width="8.8"/><path d="M55.3 91.8 l0.1 0" stroke="rgb(149,149,149)" stroke-width="4.3"/>
<path d="M217.5 175.7 L217.9 172.2 L221.5 170.8 L224.5 173.5 L228.3 176.1 L231.6 179.5" stroke="rgb(165,165,165)" stroke-width="8.8"/><path d="M217.5 175.7 L217.9 172.2 L221.5 170.8 L224.5 173.5 L228.3 176.1 L231.6 179.5" stroke="rgb(149,149,149)" stroke-width="4.3"/>
<path d="M216.9 53.0 L212.7 52.3 L211.7 56.2 L207.7 56.8 L205.1 53.8 L201.1 53.9 L199.7 57.3" stroke="rgb(180,180,180)" stroke-width="7.9"/><path d="M216.9 53.0 L212.7 52.3 L211.7 56.2 L207.7 56.8 L205.1 53.8 L201.1 53.9 L199.7 57.3" stroke="rgb(164,164,164)" stroke-width="3.8"/>
<path d="M67.6 170.1 L68.5 165.7 L65.9 161.7 L64.8 157.8 L68.8 156.9 L70.0 161.5" stroke="rgb(176,176,176)" stroke-width="9.0"/><path d="M67.6 170.1 L68.5 165.7 L65.9 161.7 L64.8 157.8 L68.8 156.9 L70.0 161.5" stroke="rgb(160,160,160)" stroke-width="4.4"/>
<path d="M40.2 192.4 L42.5 195.3 L46.8 194.8 L50.6 196.0 L50.6 200.9 L45.6 201.1 L46.0 205.6 M42.5 195.3 L42.1 199.0" stroke="rgb(173,173,173)" stroke-width="8.1"/><path d="M40.2 192.4 L42.5 195.3 L46.8 194.8 L50.6 196.0 L50.6 200.9 L45.6 201.1 L46.0 205.6 M42.5 195.3 L42.1 199.0" stroke="rgb(157,157,157)" stroke-width="3.9"/>
<path d="M32.7 117.3 l0.1 0" stroke="rgb(178,178,178)" stroke-width="8.7"/><path d="M32.7 117.3 l0.1 0" stroke="rgb(162,162,162)" stroke-width="4.2"/>
<path d="M220.5 62.5 l0.1 0" stroke="rgb(163,163,163)" stroke-width="9.0"/><path d="M220.5 62.5 l0.1 0" stroke="rgb(147,147,147)" stroke-width="4.4"/>
<path d="M191.9 161.6 L196.0 161.3 L199.3 159.2 L202.6 160.5 M196.0 161.3 L194.9 157.0" stroke="rgb(180,180,180)" stroke-width="7.9"/><path d="M191.9 161.6 L196.0 161.3 L199.3 159.2 L202.6 160.5 M196.0 161.3 L194.9 157.0" stroke="rgb(164,164,164)" stroke-width="3.8"/>
<path d="M145.4 84.2 L150.1 85.3" stroke="rgb(173,173,173)" stroke-width="8.2"/><path d="M145.4 84.2 L150.1 85.3" stroke="rgb(157,157,157)" stroke-width="4.0"/>
<path d="M110.2 127.6 L109.2 131.0" stroke="rgb(170,170,170)" stroke-width="8.3"/><path d="M110.2 127.6 L109.2 131.0" stroke="rgb(154,154,154)" stroke-width="4.0"/>
<path d="M152.2 38.9 L151.6 34.0 L147.3 33.3 L142.7 32.5 L140.5 29.2 L136.0 28.2" stroke="rgb(165,165,165)" stroke-width="9.0"/><path d="M152.2 38.9 L151.6 34.0 L147.3 33.3 L142.7 32.5 L140.5 29.2 L136.0 28.2" stroke="rgb(149,149,149)" stroke-width="4.4"/>
<path d="M180.2 130.9 L180.5 126.8 L182.6 123.7" stroke="rgb(167,167,167)" stroke-width="8.5"/><path d="M180.2 130.9 L180.5 126.8 L182.6 123.7" stroke="rgb(151,151,151)" stroke-width="4.1"/>
<path d="M106.9 153.5 L102.8 151.8 L98.3 150.2 L95.1 147.6 L94.4 143.0" stroke="rgb(174,174,174)" stroke-width="7.8"/><path d="M106.9 153.5 L102.8 151.8 L98.3 150.2 L95.1 147.6 L94.4 143.0" stroke="rgb(158,158,158)" stroke-width="3.8"/>
<path d="M95.3 100.8 L90.9 100.0 L90.7 95.6 L94.4 95.7" stroke="rgb(174,174,174)" stroke-width="8.6"/><path d="M95.3 100.8 L90.9 100.0 L90.7 95.6 L94.4 95.7" stroke="rgb(158,158,158)" stroke-width="4.2"/>
<path d="M93.8 192.2 L91.3 195.3 L94.7 197.9 L98.2 195.3 L95.3 191.5 L91.1 191.7 L89.4 195.7" stroke="rgb(182,182,182)" stroke-width="8.2"/><path d="M93.8 192.2 L91.3 195.3 L94.7 197.9 L98.2 195.3 L95.3 191.5 L91.1 191.7 L89.4 195.7" stroke="rgb(166,166,166)" stroke-width="4.0"/>
<path d="M34.5 157.8 L30.7 156.3 L32.9 151.9 L35.9 148.5 L38.5 145.4" stroke="rgb(172,172,172)" stroke-width="8.9"/><path d="M34.5 157.8 L30.7 156.3 L32.9 151.9 L35.9 148.5 L38.5 145.4" stroke="rgb(156,156,156)" stroke-width="4.3"/>
<path d="M217.6 111.4 L222.1 109.9 L225.7 110.4 L230.5 111.5 L233.1 114.3 M225.7 110.4 L227.0 106.5" stroke="rgb(161,161,161)" stroke-width="8.0"/><path d="M217.6 111.4 L222.1 109.9 L225.7 110.4 L230.5 111.5 L233.1 114.3 M225.7 110.4 L227.0 106.5" stroke="rgb(145,145,145)" stroke-width="3.8"/>
<path d="M217.5 185.8 L218.9 189.9 L222.3 190.8 L225.3 193.9 M222.3 190.8 L225.8 187.4" stroke="rgb(161,161,161)" stroke-width="9.0"/><path d="M217.5 185.8 L218.9 189.9 L222.3 190.8 L225.3 193.9 M222.3 190.8 L225.8 187.4" stroke="rgb(145,145,145)" stroke-width="4.4"/>
<path d="M165.9 84.9 L164.9 81.0 L166.5 76.6" stroke="rgb(166,166,166)" stroke-width="8.2"/><path d="M165.9 84.9 L164.9 81.0 L166.5 76.6" stroke="rgb(150,150,150)" stroke-width="4.0"/>
<path d="M89.7 36.7 l0.1 0" stroke="rgb(165,165,165)" stroke-width="8.4"/><path d="M89.7 36.7 l0.1 0" stroke="rgb(149,149,149)" stroke-width="4.1"/>
<path d="M28.8 83.6 L28.2 88.0" stroke="rgb(166,166,166)" stroke-width="7.9"/><path d="M28.8 83.6 L28.2 88.0" stroke="rgb(150,150,150)" stroke-width="3.8"/>
<path d="M161.1 194.9 L160.6 198.8 L159.6 202.9 L160.5 206.8 L159.9 210.8" stroke="rgb(175,175,175)" stroke-width="8.2"/><path d="M161.1 194.9 L160.6 198.8 L159.6 202.9 L160.5 206.8 L159.9 210.8" stroke="rgb(159,159,159)" stroke-width="4.0"/>
<path d="M216.1 162.1 L219.5 158.9 L223.4 156.8 L225.4 153.5 L229.3 152.4 L228.1 148.8 L230.7 145.1 L230.9 141.1" stroke="rgb(162,162,162)" stroke-width="8.2"/><path d="M216.1 162.1 L219.5 158.9 L223.4 156.8 L225.4 153.5 L229.3 152.4 L228.1 148.8 L230.7 145.1 L230.9 141.1" stroke="rgb(146,146,146)" stroke-width="4.0"/>
<path d="M198.3 66.2 l0.1 0" stroke="rgb(160,160,160)" stroke-width="8.1"/><path d="M198.3 66.2 l0.1 0" stroke="rgb(144,144,144)" stroke-width="3.9"/>
<path d="M149.6 162.4 L145.6 162.6" stroke="rgb(178,178,178)" stroke-width="8.4"/><path d="M149.6 162.4 L145.6 162.6" stroke="rgb(162,162,162)" stroke-width="4.1"/>
<path d="M185.6 52.6 L181.6 53.9 L179.0 58.1 L182.3 61.2 L185.3 59.4 L187.7 56.3" stroke="rgb(169,169,169)" stroke-width="9.1"/><path d="M185.6 52.6 L181.6 53.9 L179.0 58.1 L182.3 61.2 L185.3 59.4 L187.7 56.3" stroke="rgb(153,153,153)" stroke-width="4.4"/>
<path d="M108.2 47.1 L106.6 50.5" stroke="rgb(163,163,163)" stroke-width="8.3"/><path d="M108.2 47.1 L106.6 50.5" stroke="rgb(147,147,147)" stroke-width="4.0"/>
<path d="M17.6 182.6 l0.1 0" stroke="rgb(176,176,176)" stroke-width="8.9"/><path d="M17.6 182.6 l0.1 0" stroke="rgb(160,160,160)" stroke-width="4.3"/>
<path d="M10.9 99.7 L8.5 95.4 L6.3 91.9 L3.1 93.2 L-1.1 91.7" stroke="rgb(174,174,174)" stroke-width="8.2"/><path d="M10.9 99.7 L8.5 95.4 L6.3 91.9 L3.1 93.2 L-1.1 91.7" stroke="rgb(158,158,158)" stroke-width="4.0"/>
<path d="M47.6 38.7 L49.2 35.1 L46.0 32.9 L42.8 35.0" stroke="rgb(179,179,179)" stroke-width="8.6"/><path d="M47.6 38.7 L49.2 35.1 L46.0 32.9 L42.8 35.0" stroke="rgb(163,163,163)" stroke-width="4.2"/>
<path d="M121.6 108.8 l0.1 0" stroke="rgb(176,176,176)" stroke-width="8.0"/><path d="M121.6 108.8 l0.1 0" stroke="rgb(160,160,160)" stroke-width="3.9"/>
<path d="M63.4 111.3 l0.1 0" stroke="rgb(176,176,176)" stroke-width="8.7"/><path d="M63.4 111.3 l0.1 0" stroke="rgb(160,160,160)" stroke-width="4.3"/>
<path d="M35.6 127.1 l0.1 0" stroke="rgb(163,163,163)" stroke-width="8.0"/><path d="M35.6 127.1 l0.1 0" stroke="rgb(147,147,147)" stroke-width="3.8"/>
<path d="M131.0 147.6 L129.5 150.8 L127.3 154.2 L127.1 157.9" stroke="rgb(174,174,174)" stroke-width="8.8"/><path d="M131.0 147.6 L129.5 150.8 L127.3 154.2 L127.1 157.9" stroke="rgb(158,158,158)" stroke-width="4.3"/>
<path d="M12.6 68.8 L8.3 66.4 L5.0 69.7 L3.1 73.3 L0.9 76.7 L-1.0 80.0 L-4.4 82.1 L-8.9 82.4 M5.0 69.7 L1.3 67.7" stroke="rgb(175,175,175)" stroke-width="8.0"/><path d="M12.6 68.8 L8.3 66.4 L5.0 69.7 L3.1 73.3 L0.9 76.7 L-1.0 80.0 L-4.4 82.1 L-8.9 82.4 M5.0 69.7 L1.3 67.7" stroke="rgb(159,159,159)" stroke-width="3.9"/>
<path d="M199.2 140.5 l0.1 0" stroke="rgb(164,164,164)" stroke-width="8.5"/><path d="M199.2 140.5 l0.1 0" stroke="rgb(148,148,148)" stroke-width="4.2"/>
<path d="M39.2 135.5 l0.1 0" stroke="rgb(180,180,180)" stroke-width="7.9"/><path d="M39.2 135.5 l0.1 0" stroke="rgb(164,164,164)" stroke-width="3.8"/>
<path d="M48.6 80.1 l0.1 0" stroke="rgb(168,168,168)" stroke-width="7.9"/><path d="M48.6 80.1 l0.1 0" stroke="rgb(152,152,152)" stroke-width="3.8"/>
<path d="M189.8 140.9 l0.1 0" stroke="rgb(178,178,178)" stroke-width="8.4"/><path d="M189.8 140.9 l0.1 0" stroke="rgb(162,162,162)" stroke-width="4.1"/>
<path d="M138.8 140.5 l0.1 0" stroke="rgb(172,172,172)" stroke-width="8.6"/><path d="M138.8 140.5 l0.1 0" stroke="rgb(156,156,156)" stroke-width="4.2"/>
<path d="M99.4 163.7 l0.1 0" stroke="rgb(180,180,180)" stroke-width="8.2"/><path d="M99.4 163.7 l0.1 0" stroke="rgb(164,164,164)" stroke-width="3.9"/>
<path d="M149.4 106.9 l0.1 0" stroke="rgb(182,182,182)" stroke-width="7.9"/><path d="M149.4 106.9 l0.1 0" stroke="rgb(166,166,166)" stroke-width="3.8"/>
<path d="M193.1 36.0 L197.3 33.4 L200.2 30.0 L204.8 29.1 L207.5 26.8" stroke="rgb(165,165,165)" stroke-width="8.1"/><path d="M193.1 36.0 L197.3 33.4 L200.2 30.0 L204.8 29.1 L207.5 26.8" stroke="rgb(149,149,149)" stroke-width="3.9"/>
<path d="M9.2 36.6 L5.9 35.0 L1.6 33.7 L-1.9 32.1 L-5.1 28.6 M1.6 33.7 L3.4 30.0 L3.3 25.0" stroke="rgb(173,173,173)" stroke-width="8.2"/><path d="M9.2 36.6 L5.9 35.0 L1.6 33.7 L-1.9 32.1 L-5.1 28.6 M1.6 33.7 L3.4 30.0 L3.3 25.0" stroke="rgb(157,157,157)" stroke-width="4.0"/>
<path d="M78.2 180.7 l0.1 0" stroke="rgb(166,166,166)" stroke-width="7.8"/><path d="M78.2 180.7 l0.1 0" stroke="rgb(150,150,150)" stroke-width="3.8"/>
<path d="M218.6 82.1 L221.8 80.6 L226.5 80.1 L229.7 77.4 L234.1 79.7 M226.5 80.1 L229.2 82.4" stroke="rgb(173,173,173)" stroke-width="8.0"/><path d="M218.6 82.1 L221.8 80.6 L226.5 80.1 L229.7 77.4 L234.1 79.7 M226.5 80.1 L229.2 82.4" stroke="rgb(157,157,157)" stroke-width="3.8"/>
<path d="M197.8 93.3 l0.1 0" stroke="rgb(179,179,179)" stroke-width="8.0"/><path d="M197.8 93.3 l0.1 0" stroke="rgb(163,163,163)" stroke-width="3.8"/>
<path d="M188.4 193.6 L188.4 197.2 L190.8 200.0 L194.6 201.6 L196.5 204.9" stroke="rgb(177,177,177)" stroke-width="8.1"/><path d="M188.4 193.6 L188.4 197.2 L190.8 200.0 L194.6 201.6 L196.5 204.9" stroke="rgb(161,161,161)" stroke-width="3.9"/>
<path d="M112.3 93.6 l0.1 0" stroke="rgb(164,164,164)" stroke-width="8.0"/><path d="M112.3 93.6 l0.1 0" stroke="rgb(148,148,148)" stroke-width="3.8"/>
<path d="M102.4 138.8 l0.1 0" stroke="rgb(166,166,166)" stroke-width="8.2"/><path d="M102.4 138.8 l0.1 0" stroke="rgb(150,150,150)" stroke-width="4.0"/>
<path d="M220.4 137.1 l0.1 0" stroke="rgb(178,178,178)" stroke-width="7.9"/><path d="M220.4 137.1 l0.1 0" stroke="rgb(162,162,162)" stroke-width="3.8"/>
<path d="M113.5 181.2 l0.1 0" stroke="rgb(182,182,182)" stroke-width="7.9"/><path d="M113.5 181.2 l0.1 0" stroke="rgb(166,166,166)" stroke-width="3.8"/>
<path d="M112.7 74.1 l0.1 0" stroke="rgb(171,171,171)" stroke-width="8.2"/><path d="M112.7 74.1 l0.1 0" stroke="rgb(155,155,155)" stroke-width="4.0"/>
<path d="M16.4 129.4 l0.1 0" stroke="rgb(170,170,170)" stroke-width="8.1"/><path d="M16.4 129.4 l0.1 0" stroke="rgb(154,154,154)" stroke-width="3.9"/>
<path d="M103.9 96.1 l0.1 0" stroke="rgb(174,174,174)" stroke-width="7.8"/><path d="M103.9 96.1 l0.1 0" stroke="rgb(158,158,158)" stroke-width="3.8"/>
<path d="M66.0 146.9 l0.1 0" stroke="rgb(161,161,161)" stroke-width="8.4"/><path d="M66.0 146.9 l0.1 0" stroke="rgb(145,145,145)" stroke-width="4.1"/>
<path d="M128.1 117.8 l0.1 0" stroke="rgb(169,169,169)" stroke-width="7.0"/><path d="M128.1 117.8 l0.1 0" stroke="rgb(153,153,153)" stroke-width="3.3"/>
<path d="M82.9 111.8 l0.1 0" stroke="rgb(176,176,176)" stroke-width="7.2"/><path d="M82.9 111.8 l0.1 0" stroke="rgb(160,160,160)" stroke-width="3.4"/>
<path d="M114.7 157.0 l0.1 0" stroke="rgb(176,176,176)" stroke-width="7.7"/><path d="M114.7 157.0 l0.1 0" stroke="rgb(160,160,160)" stroke-width="3.7"/>
<path d="M131.0 63.5 l0.1 0" stroke="rgb(162,162,162)" stroke-width="7.0"/><path d="M131.0 63.5 l0.1 0" stroke="rgb(146,146,146)" stroke-width="3.3"/>
<path d="M203.1 181.2 l0.1 0" stroke="rgb(176,176,176)" stroke-width="7.2"/><path d="M203.1 181.2 l0.1 0" stroke="rgb(160,160,160)" stroke-width="3.4"/>
<path d="M130.7 50.1 l0.1 0" stroke="rgb(162,162,162)" stroke-width="7.7"/><path d="M130.7 50.1 l0.1 0" stroke="rgb(146,146,146)" stroke-width="3.7"/>
<path d="M206.6 82.1 l0.1 0" stroke="rgb(178,178,178)" stroke-width="7.0"/><path d="M206.6 82.1 l0.1 0" stroke="rgb(162,162,162)" stroke-width="3.3"/>
<path d="M208.8 133.9 l0.1 0" stroke="rgb(170,170,170)" stroke-width="6.0"/><path d="M208.8 133.9 l0.1 0" stroke="rgb(154,154,154)" stroke-width="2.8"/>
<path d="M156.9 90.2 l0.1 0" stroke="rgb(175,175,175)" stroke-width="6.5"/><path d="M156.9 90.2 l0.1 0" stroke="rgb(159,159,159)" stroke-width="3.0"/>
<path d="M172.2 133.1 l0.1 0" stroke="rgb(168,168,168)" stroke-width="6.1"/><path d="M172.2 133.1 l0.1 0" stroke="rgb(152,152,152)" stroke-width="2.8"/>
<path d="M41.7 115.5 l0.1 0" stroke="rgb(173,173,173)" stroke-width="6.9"/><path d="M41.7 115.5 l0.1 0" stroke="rgb(157,157,157)" stroke-width="3.2"/>
<path d="M198.9 148.7 l0.1 0" stroke="rgb(177,177,177)" stroke-width="6.3"/><path d="M198.9 148.7 l0.1 0" stroke="rgb(161,161,161)" stroke-width="2.9"/>
<path d="M85.4 184.3 l0.1 0" stroke="rgb(177,177,177)" stroke-width="6.5"/><path d="M85.4 184.3 l0.1 0" stroke="rgb(161,161,161)" stroke-width="3.0"/>
<path d="M198.4 74.9 l0.1 0" stroke="rgb(165,165,165)" stroke-width="6.0"/><path d="M198.4 74.9 l0.1 0" stroke="rgb(149,149,149)" stroke-width="2.8"/>
<path d="M175.7 106.8 L173.5 109.9" stroke="rgb(181,181,181)" stroke-width="6.1"/><path d="M175.7 106.8 L173.5 109.9" stroke="rgb(165,165,165)" stroke-width="2.8"/>
<path d="M54.2 72.6 l0.1 0" stroke="rgb(160,160,160)" stroke-width="6.2"/><path d="M54.2 72.6 l0.1 0" stroke="rgb(144,144,144)" stroke-width="2.9"/>
<path d="M13.8 149.6 l0.1 0" stroke="rgb(163,163,163)" stroke-width="6.2"/><path d="M13.8 149.6 l0.1 0" stroke="rgb(147,147,147)" stroke-width="2.8"/>
<path d="M134.8 126.2 l0.1 0" stroke="rgb(176,176,176)" stroke-width="6.4"/><path d="M134.8 126.2 l0.1 0" stroke="rgb(160,160,160)" stroke-width="3.0"/>
<path d="M169.9 92.0 l0.1 0" stroke="rgb(170,170,170)" stroke-width="6.3"/><path d="M169.9 92.0 l0.1 0" stroke="rgb(154,154,154)" stroke-width="2.9"/>
<path d="M139.9 96.2 l0.1 0" stroke="rgb(163,163,163)" stroke-width="6.6"/><path d="M139.9 96.2 l0.1 0" stroke="rgb(147,147,147)" stroke-width="3.1"/>
<path d="M37.6 82.1 l0.1 0" stroke="rgb(161,161,161)" stroke-width="6.0"/><path d="M37.6 82.1 l0.1 0" stroke="rgb(145,145,145)" stroke-width="2.8"/>
<path d="M21.5 151.7 l0.1 0" stroke="rgb(179,179,179)" stroke-width="6.1"/><path d="M21.5 151.7 l0.1 0" stroke="rgb(163,163,163)" stroke-width="2.8"/>
<path d="M184.2 158.4 l0.1 0" stroke="rgb(179,179,179)" stroke-width="6.9"/><path d="M184.2 158.4 l0.1 0" stroke="rgb(163,163,163)" stroke-width="3.2"/>
<path d="M61.0 98.1 l0.1 0" stroke="rgb(173,173,173)" stroke-width="6.1"/><path d="M61.0 98.1 l0.1 0" stroke="rgb(157,157,157)" stroke-width="2.8"/>
<path d="M71.9 85.3 l0.1 0" stroke="rgb(173,173,173)" stroke-width="6.4"/><path d="M71.9 85.3 l0.1 0" stroke="rgb(157,157,157)" stroke-width="2.9"/>
<path d="M209.8 109.4 l0.1 0" stroke="rgb(174,174,174)" stroke-width="6.1"/><path d="M209.8 109.4 l0.1 0" stroke="rgb(158,158,158)" stroke-width="2.8"/>
<path d="M64.2 63.3 l0.1 0" stroke="rgb(175,175,175)" stroke-width="5.6"/><path d="M64.2 63.3 l0.1 0" stroke="rgb(159,159,159)" stroke-width="2.5"/>
<path d="M167.7 61.6 l0.1 0" stroke="rgb(160,160,160)" stroke-width="5.9"/><path d="M167.7 61.6 l0.1 0" stroke="rgb(144,144,144)" stroke-width="2.7"/>
<path d="M115.0 81.6 l0.1 0" stroke="rgb(177,177,177)" stroke-width="5.2"/><path d="M115.0 81.6 l0.1 0" stroke="rgb(161,161,161)" stroke-width="2.3"/>
<path d="M73.3 135.8 l0.1 0" stroke="rgb(179,179,179)" stroke-width="5.4"/><path d="M73.3 135.8 l0.1 0" stroke="rgb(163,163,163)" stroke-width="2.4"/>
<path d="M209.0 164.9 l0.1 0" stroke="rgb(182,182,182)" stroke-width="5.5"/><path d="M209.0 164.9 l0.1 0" stroke="rgb(166,166,166)" stroke-width="2.5"/>
<path d="M179.5 191.1 l0.1 0" stroke="rgb(160,160,160)" stroke-width="5.4"/><path d="M179.5 191.1 l0.1 0" stroke="rgb(144,144,144)" stroke-width="2.4"/>
<path d="M60.2 174.3 l0.1 0" stroke="rgb(170,170,170)" stroke-width="5.1"/><path d="M60.2 174.3 l0.1 0" stroke="rgb(154,154,154)" stroke-width="2.2"/>
<path d="M143.7 102.4 l0.1 0" stroke="rgb(172,172,172)" stroke-width="4.8"/><path d="M143.7 102.4 l0.1 0" stroke="rgb(156,156,156)" stroke-width="2.1"/>
<path d="M87.1 121.2 l0.1 0" stroke="rgb(178,178,178)" stroke-width="4.3"/><path d="M87.1 121.2 l0.1 0" stroke="rgb(162,162,162)" stroke-width="1.8"/>
<path d="M155.3 186.7 l0.1 0" stroke="rgb(175,175,175)" stroke-width="4.4"/><path d="M155.3 186.7 l0.1 0" stroke="rgb(159,159,159)" stroke-width="1.8"/>
<path d="M71.5 48.8 l0.1 0" stroke="rgb(165,165,165)" stroke-width="4.5"/><path d="M71.5 48.8 l0.1 0" stroke="rgb(149,149,149)" stroke-width="1.9"/>
<path d="M177.1 138.1 l0.1 0" stroke="rgb(169,169,169)" stroke-width="4.5"/><path d="M177.1 138.1 l0.1 0" stroke="rgb(153,153,153)" stroke-width="1.9"/>
<path d="M164.3 68.9 l0.1 0" stroke="rgb(164,164,164)" stroke-width="5.0"/><path d="M164.3 68.9 l0.1 0" stroke="rgb(148,148,148)" stroke-width="2.2"/>
<path d="M24.0 47.0 l0.1 0" stroke="rgb(179,179,179)" stroke-width="4.4"/><path d="M24.0 47.0 l0.1 0" stroke="rgb(163,163,163)" stroke-width="1.9"/>
<path d="M91.0 87.9 l0.1 0" stroke="rgb(174,174,174)" stroke-width="4.8"/><path d="M91.0 87.9 l0.1 0" stroke="rgb(158,158,158)" stroke-width="2.1"/>
<path d="M54.1 161.2 l0.1 0" stroke="rgb(172,172,172)" stroke-width="4.7"/><path d="M54.1 161.2 l0.1 0" stroke="rgb(156,156,156)" stroke-width="2.0"/>
<path d="M162.0 38.2 l0.1 0" stroke="rgb(160,160,160)" stroke-width="4.6"/><path d="M162.0 38.2 l0.1 0" stroke="rgb(144,144,144)" stroke-width="2.0"/>
<path d="M109.1 60.4 l0.1 0" stroke="rgb(160,160,160)" stroke-width="4.7"/><path d="M109.1 60.4 l0.1 0" stroke="rgb(144,144,144)" stroke-width="2.0"/>
<path d="M69.8 56.3 l0.1 0" stroke="rgb(163,163,163)" stroke-width="4.4"/><path d="M69.8 56.3 l0.1 0" stroke="rgb(147,147,147)" stroke-width="1.9"/>
<path d="M14.2 76.1 l0.1 0" stroke="rgb(169,169,169)" stroke-width="4.7"/><path d="M14.2 76.1 l0.1 0" stroke="rgb(153,153,153)" stroke-width="2.0"/>
<path d="M126.8 174.5 l0.1 0" stroke="rgb(174,174,174)" stroke-width="4.7"/><path d="M126.8 174.5 l0.1 0" stroke="rgb(158,158,158)" stroke-width="2.1"/>
<path d="M121.4 117.7 l0.1 0" stroke="rgb(165,165,165)" stroke-width="4.3"/><path d="M121.4 117.7 l0.1 0" stroke="rgb(149,149,149)" stroke-width="1.8"/>
<path d="M203.3 88.1 l0.1 0" stroke="rgb(176,176,176)" stroke-width="4.9"/><path d="M203.3 88.1 l0.1 0" stroke="rgb(160,160,160)" stroke-width="2.1"/>
<path d="M109.7 39.5 l0.1 0" stroke="rgb(176,176,176)" stroke-width="4.3"/><path d="M109.7 39.5 l0.1 0" stroke="rgb(160,160,160)" stroke-width="1.8"/>
<path d="M51.0 188.7 l0.1 0" stroke="rgb(182,182,182)" stroke-width="4.2"/><path d="M51.0 188.7 l0.1 0" stroke="rgb(166,166,166)" stroke-width="1.8"/>
<path d="M50.3 118.3 l0.1 0" stroke="rgb(163,163,163)" stroke-width="4.5"/><path d="M50.3 118.3 l0.1 0" stroke="rgb(147,147,147)" stroke-width="1.9"/>
<path d="M36.2 90.6 l0.1 0" stroke="rgb(176,176,176)" stroke-width="4.3"/><path d="M36.2 90.6 l0.1 0" stroke="rgb(160,160,160)" stroke-width="1.8"/>
<path d="M74.6 151.3 l0.1 0" stroke="rgb(163,163,163)" stroke-width="4.7"/><path d="M74.6 151.3 l0.1 0" stroke="rgb(147,147,147)" stroke-width="2.0"/>
<path d="M107.0 160.4 l0.1 0" stroke="rgb(175,175,175)" stroke-width="4.2"/><path d="M107.0 160.4 l0.1 0" stroke="rgb(159,159,159)" stroke-width="1.8"/>
<path d="M134.6 158.9 l0.1 0" stroke="rgb(171,171,171)" stroke-width="4.3"/><path d="M134.6 158.9 l0.1 0" stroke="rgb(155,155,155)" stroke-width="1.8"/>
</g></g>
<rect x="92.3" y="176" width="100.5" height="3.2" fill="#fff"/>
<line x1="134.6" y1="45" x2="13.5" y2="190" stroke="#1a1e20" stroke-width="2.4" fill="none" opacity="0.3"/>
<line x1="134.6" y1="45" x2="13.5" y2="190" stroke="#d8eef0" stroke-width="1.5" stroke-dasharray="5,3" fill="none"/>
<line x1="149.4" y1="45" x2="216" y2="190" stroke="#1a1e20" stroke-width="2.4" fill="none" opacity="0.3"/>
<line x1="149.4" y1="45" x2="216" y2="190" stroke="#d8eef0" stroke-width="1.5" stroke-dasharray="5,3" fill="none"/>
<line x1="134.6" y1="36.2" x2="13" y2="37.8" stroke="#c8d8dc" stroke-width="1.1" stroke-dasharray="4,3" fill="none" opacity="0.55"/>
<rect x="84.6" y="25.7" width="142" height="30.6" fill="#faf4ea" stroke="#111" stroke-width="1.6"/>
<polygon points="93.6,27.8 219.5,27.8 222.3,54.6 89.9,54.6" fill="url(#slide)"/>
<line x1="97" y1="36.2" x2="134" y2="36.2" stroke="#f4eee0" stroke-width="1.6" stroke-dasharray="5,4"/>
<rect x="134.6" y="34.4" width="14.8" height="10.6" fill="none" stroke="#4a3018" stroke-width="1.3"/>
<line x1="134.6" y1="45.5" x2="131" y2="50" stroke="#eee6d0" stroke-width="1"/>
<line x1="149.4" y1="45.5" x2="152" y2="50" stroke="#eee6d0" stroke-width="1"/>
<rect x="196.7" y="50.8" width="18" height="2.2" fill="#f8efc8"/>
<rect x="401" y="32.2" width="31.5" height="151.10000000000002" fill="#0aa84f"/>
<rect x="395" y="32.2" width="1.9" height="151.10000000000002" fill="#30a860"/>
<rect x="454.2" y="32.2" width="31.5" height="151.10000000000002" fill="#5b80c4"/>
<rect x="450.5" y="32.2" width="1.5" height="151.10000000000002" fill="#4a5fb0"/>
<path d="M289.50,112.00 C290.42,112.97 292.43,115.50 295.00,117.80 C297.57,120.10 301.60,122.70 304.90,125.80 C308.20,128.90 311.48,132.43 314.80,136.40 C318.12,140.37 321.82,145.42 324.80,149.60 C327.78,153.78 330.63,158.18 332.70,161.50 C334.77,164.82 336.10,167.82 337.20,169.50 C338.30,171.18 338.58,171.42 339.30,171.60 C340.02,171.78 340.80,171.45 341.50,170.60 C342.20,169.75 342.63,168.93 343.50,166.50 C344.37,164.07 345.52,161.52 346.70,156.00 C347.88,150.48 349.28,141.13 350.60,133.40 C351.92,125.67 352.93,117.55 354.60,109.60 C356.27,101.65 358.60,92.60 360.60,85.70 C362.60,78.80 364.62,73.10 366.60,68.20 C368.58,63.30 370.52,59.30 372.50,56.30 C374.48,53.30 376.17,51.67 378.50,50.20 C380.83,48.73 383.83,47.77 386.50,47.50 C389.17,47.23 391.97,47.93 394.50,48.60 C397.03,49.27 399.28,50.05 401.70,51.50 C404.12,52.95 406.35,55.13 409.00,57.30 C411.65,59.47 414.72,62.08 417.60,64.50 C420.48,66.92 423.65,69.58 426.30,71.80 C428.95,74.02 431.08,75.88 433.50,77.80 C435.92,79.72 438.13,81.53 440.80,83.30 C443.47,85.07 446.85,86.88 449.50,88.40 C452.15,89.92 453.82,90.83 456.70,92.40 C459.58,93.97 463.53,96.02 466.80,97.80 C470.07,99.58 474.72,102.22 476.30,103.10" fill="none" stroke="#111" stroke-width="1.5" stroke-linejoin="round"/>
<path d="M289.50,112.00 C290.42,112.97 292.43,115.50 295.00,117.80 C297.57,120.10 301.60,122.70 304.90,125.80 C308.20,128.90 311.48,132.43 314.80,136.40 C318.12,140.37 321.82,145.42 324.80,149.60 C327.78,153.78 330.63,158.18 332.70,161.50 C334.77,164.82 336.10,167.82 337.20,169.50 C338.30,171.18 338.58,171.42 339.30,171.60 C340.02,171.78 340.80,171.45 341.50,170.60 C342.20,169.75 342.63,168.93 343.50,166.50 C344.37,164.07 345.52,161.52 346.70,156.00 C347.88,150.48 349.28,141.13 350.60,133.40 C351.92,125.67 352.93,117.55 354.60,109.60 C356.27,101.65 358.60,92.60 360.60,85.70 C362.60,78.80 364.62,73.10 366.60,68.20 C368.58,63.30 370.52,59.30 372.50,56.30 C374.48,53.30 376.17,51.67 378.50,50.20 C380.83,48.73 383.83,47.77 386.50,47.50 C389.17,47.23 391.97,47.93 394.50,48.60 C397.03,49.27 399.28,50.05 401.70,51.50 C404.12,52.95 406.35,55.13 409.00,57.30 C411.65,59.47 414.72,62.08 417.60,64.50 C420.48,66.92 423.65,69.58 426.30,71.80 C428.95,74.02 431.08,75.88 433.50,77.80 C435.92,79.72 438.13,81.53 440.80,83.30 C443.47,85.07 446.85,86.88 449.50,88.40 C452.15,89.92 453.82,90.83 456.70,92.40 C459.58,93.97 463.53,96.02 466.80,97.80 C470.07,99.58 474.72,102.22 476.30,103.10" fill="none" stroke="#0a4a26" stroke-width="1.6" clip-path="url(#cpg)"/>
<path d="M289.50,112.00 C290.42,112.97 292.43,115.50 295.00,117.80 C297.57,120.10 301.60,122.70 304.90,125.80 C308.20,128.90 311.48,132.43 314.80,136.40 C318.12,140.37 321.82,145.42 324.80,149.60 C327.78,153.78 330.63,158.18 332.70,161.50 C334.77,164.82 336.10,167.82 337.20,169.50 C338.30,171.18 338.58,171.42 339.30,171.60 C340.02,171.78 340.80,171.45 341.50,170.60 C342.20,169.75 342.63,168.93 343.50,166.50 C344.37,164.07 345.52,161.52 346.70,156.00 C347.88,150.48 349.28,141.13 350.60,133.40 C351.92,125.67 352.93,117.55 354.60,109.60 C356.27,101.65 358.60,92.60 360.60,85.70 C362.60,78.80 364.62,73.10 366.60,68.20 C368.58,63.30 370.52,59.30 372.50,56.30 C374.48,53.30 376.17,51.67 378.50,50.20 C380.83,48.73 383.83,47.77 386.50,47.50 C389.17,47.23 391.97,47.93 394.50,48.60 C397.03,49.27 399.28,50.05 401.70,51.50 C404.12,52.95 406.35,55.13 409.00,57.30 C411.65,59.47 414.72,62.08 417.60,64.50 C420.48,66.92 423.65,69.58 426.30,71.80 C428.95,74.02 431.08,75.88 433.50,77.80 C435.92,79.72 438.13,81.53 440.80,83.30 C443.47,85.07 446.85,86.88 449.50,88.40 C452.15,89.92 453.82,90.83 456.70,92.40 C459.58,93.97 463.53,96.02 466.80,97.80 C470.07,99.58 474.72,102.22 476.30,103.10" fill="none" stroke="#1a2866" stroke-width="1.6" clip-path="url(#cpb)"/>
<line x1="289.5" y1="30.5" x2="289.5" y2="183.8" stroke="#555" stroke-width="1.2"/>
<line x1="289" y1="183.3" x2="486" y2="183.3" stroke="#555" stroke-width="1.2"/>
<line x1="286" y1="183.3" x2="289.5" y2="183.3" stroke="#555" stroke-width="1"/>
<text x="283.6" y="186.2" font-family="'Liberation Sans', sans-serif" font-size="8.3" fill="#444" text-anchor="end" stroke="#444" stroke-width="0.28">0.5</text>
<line x1="286" y1="142.6" x2="289.5" y2="142.6" stroke="#555" stroke-width="1"/>
<text x="283.6" y="145.5" font-family="'Liberation Sans', sans-serif" font-size="8.3" fill="#444" text-anchor="end" stroke="#444" stroke-width="0.28">0.6</text>
<line x1="286" y1="101.9" x2="289.5" y2="101.9" stroke="#555" stroke-width="1"/>
<text x="283.6" y="104.8" font-family="'Liberation Sans', sans-serif" font-size="8.3" fill="#444" text-anchor="end" stroke="#444" stroke-width="0.28">0.7</text>
<line x1="286" y1="61.2" x2="289.5" y2="61.2" stroke="#555" stroke-width="1"/>
<text x="283.6" y="64.1" font-family="'Liberation Sans', sans-serif" font-size="8.3" fill="#444" text-anchor="end" stroke="#444" stroke-width="0.28">0.8</text>
<line x1="287.5" y1="162.9" x2="289.5" y2="162.9" stroke="#555" stroke-width="1"/>
<line x1="287.5" y1="122.2" x2="289.5" y2="122.2" stroke="#555" stroke-width="1"/>
<line x1="287.5" y1="81.6" x2="289.5" y2="81.6" stroke="#555" stroke-width="1"/>
<line x1="287.5" y1="40.9" x2="289.5" y2="40.9" stroke="#555" stroke-width="1"/>
<line x1="307.6" y1="183.3" x2="307.6" y2="186.8" stroke="#555" stroke-width="1"/>
<text x="307.6" y="195.8" font-family="'Liberation Sans', sans-serif" font-size="8.3" fill="#444" text-anchor="middle" stroke="#444" stroke-width="0.28">400</text>
<line x1="345.3" y1="183.3" x2="345.3" y2="186.8" stroke="#555" stroke-width="1"/>
<text x="345.3" y="195.8" font-family="'Liberation Sans', sans-serif" font-size="8.3" fill="#444" text-anchor="middle" stroke="#444" stroke-width="0.28">500</text>
<line x1="383.0" y1="183.3" x2="383.0" y2="186.8" stroke="#555" stroke-width="1"/>
<text x="383.0" y="195.8" font-family="'Liberation Sans', sans-serif" font-size="8.3" fill="#444" text-anchor="middle" stroke="#444" stroke-width="0.28">600</text>
<line x1="420.7" y1="183.3" x2="420.7" y2="186.8" stroke="#555" stroke-width="1"/>
<text x="420.7" y="195.8" font-family="'Liberation Sans', sans-serif" font-size="8.3" fill="#444" text-anchor="middle" stroke="#444" stroke-width="0.28">700</text>
<line x1="458.4" y1="183.3" x2="458.4" y2="186.8" stroke="#555" stroke-width="1"/>
<text x="458.4" y="195.8" font-family="'Liberation Sans', sans-serif" font-size="8.3" fill="#444" text-anchor="middle" stroke="#444" stroke-width="0.28">800</text>
<line x1="288.8" y1="183.3" x2="288.8" y2="185.5" stroke="#555" stroke-width="1"/>
<line x1="326.5" y1="183.3" x2="326.5" y2="185.5" stroke="#555" stroke-width="1"/>
<line x1="364.2" y1="183.3" x2="364.2" y2="185.5" stroke="#555" stroke-width="1"/>
<line x1="401.9" y1="183.3" x2="401.9" y2="185.5" stroke="#555" stroke-width="1"/>
<line x1="439.6" y1="183.3" x2="439.6" y2="185.5" stroke="#555" stroke-width="1"/>
<line x1="477.2" y1="183.3" x2="477.2" y2="185.5" stroke="#555" stroke-width="1"/>
<text x="386.2" y="210.2" font-family="'Liberation Sans', sans-serif" font-size="8.4" fill="#444" text-anchor="middle" stroke="#444" stroke-width="0.28">Wavelength (nm)</text>
<text transform="translate(261.3,107.9) rotate(-90)" font-family="'Liberation Sans', sans-serif" font-size="8.4" fill="#444" text-anchor="middle" stroke="#444" stroke-width="0.28">Extinction (a.u.)</text>
<text x="416.2" y="111.8" font-family="'Liberation Sans', sans-serif" font-size="8.1" fill="#0b4a26" text-anchor="middle" stroke="#0b4a26" stroke-width="0.28">Cy5</text>
<text x="470.1" y="111.8" font-family="'Liberation Sans', sans-serif" font-size="8.1" fill="#1c2f70" text-anchor="middle" stroke="#1c2f70" stroke-width="0.28">IR800</text>
<text x="620.5" y="34.8" font-family="'Liberation Sans', sans-serif" font-size="11.8" fill="#222" text-anchor="middle" stroke="#222" stroke-width="0.28">Glass</text>
<text x="679.8" y="34.8" font-family="'Liberation Sans', sans-serif" font-size="11.8" fill="#222" text-anchor="middle" stroke="#222" stroke-width="0.28">Au/Au</text>
<text x="582.1" y="77.8" font-family="'Liberation Sans', sans-serif" font-size="11.8" fill="#222" text-anchor="end" stroke="#222" stroke-width="0.28">IgG-Cy5</text>
<text x="582.1" y="144.5" font-family="'Liberation Sans', sans-serif" font-size="11.8" fill="#222" text-anchor="end" stroke="#222" stroke-width="0.28">IgG-IR800</text>
<rect x="588.4" y="41.4" width="59.6" height="61.1" fill="#050805"/>
<rect x="650.4" y="41.4" width="60" height="61.1" fill="#050805"/>
<rect x="588.4" y="108.8" width="59.6" height="60.2" fill="#04060c"/>
<rect x="650.4" y="108.8" width="60" height="60.2" fill="#03050a"/>
<path d="M626,44.8 C636,45 642,53 643,62 C646,70 647,80 644,88 C640,95 630,97.5 620,97 C608,96.5 600,90 599.5,80 C599,70 604,63 610,59 C613,52 618,45 626,44.8 Z" fill="url(#gl5)" filter="url(#blur09)"/>
<circle cx="607.6" cy="81.2" r="0.7" fill="#3cb04a" opacity="0.34"/>
<circle cx="622.0" cy="57.0" r="0.8" fill="#3cb04a" opacity="0.08"/>
<circle cx="637.2" cy="72.1" r="0.7" fill="#3cb04a" opacity="0.21"/>
<circle cx="617.1" cy="75.9" r="0.4" fill="#3cb04a" opacity="0.26"/>
<circle cx="636.5" cy="57.8" r="0.5" fill="#3cb04a" opacity="0.08"/>
<circle cx="634.0" cy="90.6" r="0.7" fill="#3cb04a" opacity="0.51"/>
<circle cx="622.9" cy="51.9" r="0.9" fill="#3cb04a" opacity="0.06"/>
<circle cx="616.9" cy="53.9" r="0.8" fill="#3cb04a" opacity="0.06"/>
<circle cx="620.8" cy="74.2" r="0.6" fill="#3cb04a" opacity="0.23"/>
<circle cx="622.3" cy="55.5" r="0.4" fill="#3cb04a" opacity="0.07"/>
<circle cx="635.9" cy="56.6" r="0.9" fill="#3cb04a" opacity="0.08"/>
<circle cx="641.1" cy="84.5" r="0.8" fill="#3cb04a" opacity="0.39"/>
<circle cx="626.7" cy="83.2" r="0.5" fill="#3cb04a" opacity="0.37"/>
<circle cx="621.9" cy="88.2" r="0.5" fill="#3cb04a" opacity="0.46"/>
<circle cx="618.8" cy="64.6" r="0.6" fill="#3cb04a" opacity="0.13"/>
<circle cx="617.8" cy="47.4" r="0.4" fill="#3cb04a" opacity="0.05"/>
<circle cx="622.8" cy="71.1" r="0.7" fill="#3cb04a" opacity="0.19"/>
<circle cx="634.4" cy="57.3" r="0.7" fill="#3cb04a" opacity="0.08"/>
<circle cx="625.6" cy="77.8" r="0.5" fill="#3cb04a" opacity="0.28"/>
<circle cx="627.5" cy="61.6" r="0.5" fill="#3cb04a" opacity="0.11"/>
<circle cx="603.0" cy="87.5" r="0.8" fill="#3cb04a" opacity="0.45"/>
<circle cx="617.2" cy="80.9" r="0.7" fill="#3cb04a" opacity="0.33"/>
<circle cx="618.7" cy="96.4" r="0.9" fill="#3cb04a" opacity="0.64"/>
<circle cx="627.2" cy="91.0" r="0.6" fill="#3cb04a" opacity="0.52"/>
<circle cx="617.3" cy="58.6" r="0.8" fill="#3cb04a" opacity="0.09"/>
<circle cx="637.0" cy="85.5" r="0.6" fill="#3cb04a" opacity="0.41"/>
<circle cx="611.9" cy="60.8" r="0.6" fill="#3cb04a" opacity="0.10"/>
<circle cx="615.6" cy="91.9" r="0.9" fill="#3cb04a" opacity="0.54"/>
<circle cx="634.3" cy="70.4" r="0.5" fill="#3cb04a" opacity="0.19"/>
<circle cx="609.8" cy="88.8" r="0.8" fill="#3cb04a" opacity="0.47"/>
<circle cx="640.5" cy="76.7" r="0.6" fill="#3cb04a" opacity="0.27"/>
<circle cx="626.7" cy="89.3" r="0.6" fill="#3cb04a" opacity="0.48"/>
<circle cx="624.6" cy="60.1" r="0.8" fill="#3cb04a" opacity="0.10"/>
<circle cx="600.5" cy="81.0" r="0.9" fill="#3cb04a" opacity="0.33"/>
<circle cx="601.1" cy="76.3" r="0.7" fill="#3cb04a" opacity="0.26"/>
<circle cx="639.2" cy="75.8" r="0.5" fill="#3cb04a" opacity="0.25"/>
<circle cx="618.7" cy="94.9" r="0.9" fill="#3cb04a" opacity="0.60"/>
<circle cx="620.6" cy="53.2" r="0.8" fill="#3cb04a" opacity="0.06"/>
<circle cx="630.1" cy="52.5" r="0.7" fill="#3cb04a" opacity="0.06"/>
<circle cx="614.9" cy="71.2" r="0.5" fill="#3cb04a" opacity="0.20"/>
<circle cx="617.4" cy="82.2" r="0.7" fill="#3cb04a" opacity="0.35"/>
<circle cx="602.1" cy="82.3" r="0.8" fill="#3cb04a" opacity="0.35"/>
<circle cx="635.6" cy="86.3" r="0.4" fill="#3cb04a" opacity="0.43"/>
<circle cx="621.3" cy="49.2" r="0.8" fill="#3cb04a" opacity="0.05"/>
<circle cx="608.1" cy="82.3" r="0.5" fill="#3cb04a" opacity="0.35"/>
<circle cx="632.0" cy="62.0" r="0.4" fill="#3cb04a" opacity="0.11"/>
<circle cx="617.9" cy="61.8" r="0.9" fill="#3cb04a" opacity="0.11"/>
<circle cx="613.6" cy="71.7" r="0.7" fill="#3cb04a" opacity="0.20"/>
<circle cx="627.7" cy="71.9" r="0.8" fill="#3cb04a" opacity="0.20"/>
<circle cx="632.2" cy="72.8" r="0.7" fill="#3cb04a" opacity="0.22"/>
<circle cx="602.9" cy="87.5" r="0.9" fill="#3cb04a" opacity="0.45"/>
<circle cx="616.3" cy="62.2" r="0.9" fill="#3cb04a" opacity="0.11"/>
<circle cx="603.4" cy="87.5" r="0.8" fill="#3cb04a" opacity="0.45"/>
<circle cx="620.6" cy="77.7" r="0.4" fill="#3cb04a" opacity="0.28"/>
<circle cx="629.7" cy="68.6" r="0.7" fill="#3cb04a" opacity="0.17"/>
<circle cx="617.9" cy="66.5" r="0.5" fill="#3cb04a" opacity="0.15"/>
<circle cx="611.4" cy="81.9" r="0.8" fill="#3cb04a" opacity="0.35"/>
<circle cx="633.3" cy="69.3" r="0.5" fill="#3cb04a" opacity="0.17"/>
<circle cx="617.7" cy="70.8" r="0.7" fill="#3cb04a" opacity="0.19"/>
<circle cx="622.1" cy="71.1" r="0.8" fill="#3cb04a" opacity="0.20"/>
<circle cx="641.0" cy="85.8" r="0.7" fill="#3cb04a" opacity="0.41"/>
<circle cx="634.9" cy="80.1" r="0.8" fill="#3cb04a" opacity="0.32"/>
<circle cx="632.2" cy="80.8" r="0.5" fill="#3cb04a" opacity="0.33"/>
<circle cx="628.3" cy="88.1" r="0.9" fill="#3cb04a" opacity="0.46"/>
<circle cx="614.4" cy="61.9" r="0.6" fill="#3cb04a" opacity="0.11"/>
<circle cx="606.7" cy="74.2" r="0.4" fill="#3cb04a" opacity="0.23"/>
<circle cx="613.9" cy="94.1" r="0.8" fill="#3cb04a" opacity="0.58"/>
<circle cx="621.3" cy="51.5" r="0.9" fill="#3cb04a" opacity="0.06"/>
<circle cx="632.4" cy="56.5" r="0.6" fill="#3cb04a" opacity="0.08"/>
<circle cx="629.5" cy="80.8" r="0.5" fill="#3cb04a" opacity="0.33"/>
<circle cx="611.7" cy="89.1" r="0.5" fill="#3cb04a" opacity="0.48"/>
<circle cx="631.3" cy="56.2" r="0.7" fill="#3cb04a" opacity="0.07"/>
<circle cx="612.8" cy="65.3" r="0.9" fill="#3cb04a" opacity="0.14"/>
<circle cx="621.5" cy="68.3" r="0.7" fill="#3cb04a" opacity="0.16"/>
<circle cx="612.9" cy="54.9" r="0.6" fill="#3cb04a" opacity="0.07"/>
<circle cx="612.5" cy="55.6" r="0.9" fill="#3cb04a" opacity="0.07"/>
<circle cx="643.0" cy="81.9" r="0.4" fill="#3cb04a" opacity="0.35"/>
<circle cx="623.1" cy="48.0" r="0.7" fill="#3cb04a" opacity="0.05"/>
<circle cx="632.2" cy="58.3" r="0.4" fill="#3cb04a" opacity="0.08"/>
<circle cx="625.0" cy="50.8" r="0.6" fill="#3cb04a" opacity="0.06"/>
<circle cx="620.9" cy="91.6" r="0.6" fill="#3cb04a" opacity="0.53"/>
<circle cx="606.2" cy="86.4" r="0.8" fill="#3cb04a" opacity="0.43"/>
<circle cx="624.4" cy="48.5" r="0.5" fill="#3cb04a" opacity="0.05"/>
<circle cx="618.5" cy="74.1" r="0.5" fill="#3cb04a" opacity="0.23"/>
<circle cx="636.9" cy="89.0" r="0.9" fill="#3cb04a" opacity="0.48"/>
<circle cx="626.8" cy="50.1" r="0.8" fill="#3cb04a" opacity="0.05"/>
<circle cx="634.4" cy="84.7" r="0.5" fill="#3cb04a" opacity="0.40"/>
<circle cx="602.7" cy="87.6" r="0.7" fill="#3cb04a" opacity="0.45"/>
<circle cx="628.5" cy="70.0" r="0.8" fill="#3cb04a" opacity="0.18"/>
<circle cx="615.5" cy="59.8" r="0.6" fill="#3cb04a" opacity="0.09"/>
<circle cx="613.7" cy="78.0" r="0.8" fill="#3cb04a" opacity="0.29"/>
<circle cx="623.5" cy="80.6" r="0.5" fill="#3cb04a" opacity="0.33"/>
<circle cx="631.3" cy="79.3" r="0.5" fill="#3cb04a" opacity="0.31"/>
<circle cx="624.8" cy="66.8" r="0.7" fill="#3cb04a" opacity="0.15"/>
<circle cx="633.5" cy="72.8" r="0.4" fill="#3cb04a" opacity="0.22"/>
<circle cx="638.1" cy="56.9" r="0.4" fill="#3cb04a" opacity="0.08"/>
<circle cx="616.2" cy="73.2" r="0.7" fill="#3cb04a" opacity="0.22"/>
<circle cx="608.0" cy="82.2" r="0.6" fill="#3cb04a" opacity="0.35"/>
<circle cx="607.5" cy="89.4" r="0.8" fill="#3cb04a" opacity="0.48"/>
<circle cx="641.7" cy="80.7" r="0.5" fill="#3cb04a" opacity="0.33"/>
<circle cx="635.8" cy="92.0" r="0.7" fill="#3cb04a" opacity="0.54"/>
<circle cx="617.9" cy="94.0" r="0.9" fill="#3cb04a" opacity="0.58"/>
<circle cx="616.2" cy="77.3" r="0.7" fill="#3cb04a" opacity="0.28"/>
<circle cx="634.8" cy="79.0" r="0.5" fill="#3cb04a" opacity="0.30"/>
<circle cx="642.8" cy="73.3" r="0.8" fill="#3cb04a" opacity="0.22"/>
<circle cx="625.5" cy="85.6" r="0.8" fill="#3cb04a" opacity="0.41"/>
<circle cx="608.2" cy="73.5" r="0.8" fill="#3cb04a" opacity="0.22"/>
<circle cx="616.7" cy="52.7" r="0.4" fill="#3cb04a" opacity="0.06"/>
<circle cx="619.5" cy="75.6" r="0.4" fill="#3cb04a" opacity="0.25"/>
<circle cx="630.6" cy="56.8" r="0.5" fill="#3cb04a" opacity="0.08"/>
<circle cx="642.7" cy="72.7" r="0.8" fill="#3cb04a" opacity="0.21"/>
<circle cx="623.6" cy="52.3" r="0.5" fill="#3cb04a" opacity="0.06"/>
<circle cx="619.5" cy="78.7" r="0.8" fill="#3cb04a" opacity="0.30"/>
<circle cx="634.6" cy="79.2" r="0.5" fill="#3cb04a" opacity="0.30"/>
<circle cx="619.8" cy="65.3" r="0.6" fill="#3cb04a" opacity="0.14"/>
<circle cx="612.2" cy="73.4" r="0.6" fill="#3cb04a" opacity="0.22"/>
<circle cx="627.0" cy="86.9" r="0.8" fill="#3cb04a" opacity="0.44"/>
<circle cx="617.3" cy="66.1" r="0.4" fill="#3cb04a" opacity="0.14"/>
<circle cx="630.6" cy="75.7" r="0.7" fill="#3cb04a" opacity="0.25"/>
<circle cx="610.5" cy="83.4" r="0.8" fill="#3cb04a" opacity="0.37"/>
<circle cx="622.2" cy="48.8" r="0.6" fill="#3cb04a" opacity="0.05"/>
<circle cx="638.0" cy="71.5" r="0.6" fill="#3cb04a" opacity="0.20"/>
<circle cx="617.9" cy="78.1" r="0.7" fill="#3cb04a" opacity="0.29"/>
<circle cx="631.9" cy="90.1" r="0.8" fill="#3cb04a" opacity="0.50"/>
<circle cx="617.2" cy="58.8" r="0.8" fill="#3cb04a" opacity="0.09"/>
<circle cx="636.5" cy="93.3" r="0.5" fill="#3cb04a" opacity="0.57"/>
<circle cx="639.0" cy="91.4" r="0.4" fill="#3cb04a" opacity="0.53"/>
<circle cx="614.2" cy="78.3" r="0.5" fill="#3cb04a" opacity="0.29"/>
<circle cx="638.2" cy="59.5" r="0.7" fill="#3cb04a" opacity="0.09"/>
<circle cx="613.6" cy="57.1" r="0.5" fill="#3cb04a" opacity="0.08"/>
<circle cx="622.9" cy="82.4" r="0.5" fill="#3cb04a" opacity="0.36"/>
<circle cx="631.6" cy="63.1" r="0.7" fill="#3cb04a" opacity="0.12"/>
<circle cx="616.9" cy="55.9" r="0.5" fill="#3cb04a" opacity="0.07"/>
<circle cx="602.7" cy="81.5" r="0.6" fill="#3cb04a" opacity="0.34"/>
<circle cx="605.7" cy="90.9" r="0.7" fill="#3cb04a" opacity="0.52"/>
<circle cx="601.0" cy="83.0" r="0.7" fill="#3cb04a" opacity="0.37"/>
<circle cx="620.4" cy="71.5" r="0.9" fill="#3cb04a" opacity="0.20"/>
<circle cx="617.2" cy="78.4" r="0.7" fill="#3cb04a" opacity="0.29"/>
<circle cx="616.8" cy="63.7" r="0.8" fill="#3cb04a" opacity="0.12"/>
<circle cx="629.2" cy="69.3" r="0.7" fill="#3cb04a" opacity="0.18"/>
<circle cx="610.3" cy="86.3" r="0.4" fill="#3cb04a" opacity="0.42"/>
<circle cx="629.6" cy="69.2" r="0.5" fill="#3cb04a" opacity="0.17"/>
<circle cx="627.0" cy="75.7" r="0.4" fill="#3cb04a" opacity="0.25"/>
<circle cx="622.5" cy="54.4" r="0.8" fill="#3cb04a" opacity="0.07"/>
<circle cx="615.0" cy="62.7" r="0.5" fill="#3cb04a" opacity="0.11"/>
<circle cx="607.0" cy="77.8" r="0.8" fill="#3cb04a" opacity="0.28"/>
<circle cx="624.6" cy="51.9" r="0.6" fill="#3cb04a" opacity="0.06"/>
<circle cx="635.0" cy="56.4" r="0.7" fill="#3cb04a" opacity="0.07"/>
<circle cx="624.8" cy="50.3" r="0.5" fill="#3cb04a" opacity="0.05"/>
<circle cx="627.6" cy="50.9" r="0.5" fill="#3cb04a" opacity="0.06"/>
<circle cx="626.5" cy="87.7" r="0.7" fill="#3cb04a" opacity="0.45"/>
<circle cx="630.5" cy="46.5" r="0.6" fill="#3cb04a" opacity="0.05"/>
<circle cx="614.6" cy="92.6" r="0.6" fill="#3cb04a" opacity="0.55"/>
<circle cx="622.9" cy="91.5" r="0.8" fill="#3cb04a" opacity="0.53"/>
<circle cx="626.7" cy="55.3" r="0.9" fill="#3cb04a" opacity="0.07"/>
<circle cx="635.7" cy="82.7" r="0.7" fill="#3cb04a" opacity="0.36"/>
<circle cx="630.5" cy="79.5" r="0.6" fill="#3cb04a" opacity="0.31"/>
<circle cx="614.9" cy="86.4" r="0.8" fill="#3cb04a" opacity="0.43"/>
<circle cx="605.2" cy="79.8" r="0.6" fill="#3cb04a" opacity="0.31"/>
<circle cx="631.8" cy="78.0" r="0.6" fill="#3cb04a" opacity="0.29"/>
<circle cx="625.6" cy="64.6" r="0.5" fill="#3cb04a" opacity="0.13"/>
<circle cx="622.7" cy="61.5" r="0.6" fill="#3cb04a" opacity="0.11"/>
<circle cx="608.6" cy="92.6" r="0.6" fill="#3cb04a" opacity="0.55"/>
<circle cx="609.9" cy="90.3" r="0.6" fill="#3cb04a" opacity="0.50"/>
<circle cx="630.7" cy="57.8" r="0.7" fill="#3cb04a" opacity="0.08"/>
<circle cx="620.7" cy="83.6" r="0.7" fill="#3cb04a" opacity="0.38"/>
<circle cx="617.3" cy="60.3" r="0.7" fill="#3cb04a" opacity="0.10"/>
<circle cx="638.3" cy="81.3" r="0.6" fill="#3cb04a" opacity="0.34"/>
<circle cx="615.1" cy="91.5" r="0.8" fill="#3cb04a" opacity="0.53"/>
<circle cx="606.7" cy="80.6" r="0.8" fill="#3cb04a" opacity="0.33"/>
<circle cx="631.1" cy="95.2" r="0.8" fill="#3cb04a" opacity="0.61"/>
<circle cx="615.1" cy="65.4" r="0.9" fill="#3cb04a" opacity="0.14"/>
<circle cx="628.8" cy="59.9" r="0.5" fill="#3cb04a" opacity="0.09"/>
<circle cx="636.5" cy="77.2" r="0.8" fill="#3cb04a" opacity="0.28"/>
<circle cx="636.3" cy="90.5" r="0.8" fill="#3cb04a" opacity="0.51"/>
<circle cx="623.0" cy="81.8" r="0.7" fill="#3cb04a" opacity="0.35"/>
<circle cx="644.6" cy="79.4" r="0.6" fill="#3cb04a" opacity="0.31"/>
<circle cx="630.5" cy="61.0" r="0.5" fill="#3cb04a" opacity="0.10"/>
<circle cx="617.8" cy="53.0" r="0.4" fill="#3cb04a" opacity="0.06"/>
<circle cx="629.3" cy="51.7" r="0.7" fill="#3cb04a" opacity="0.06"/>
<circle cx="613.6" cy="68.7" r="0.8" fill="#3cb04a" opacity="0.17"/>
<circle cx="619.0" cy="66.0" r="0.8" fill="#3cb04a" opacity="0.14"/>
<circle cx="632.3" cy="88.6" r="0.9" fill="#3cb04a" opacity="0.47"/>
<circle cx="611.8" cy="77.9" r="0.6" fill="#3cb04a" opacity="0.28"/>
<circle cx="632.3" cy="89.2" r="0.5" fill="#3cb04a" opacity="0.48"/>
<circle cx="615.9" cy="93.7" r="0.6" fill="#3cb04a" opacity="0.58"/>
<circle cx="629.1" cy="87.7" r="0.5" fill="#3cb04a" opacity="0.45"/>
<circle cx="615.7" cy="54.5" r="0.6" fill="#3cb04a" opacity="0.07"/>
<circle cx="636.9" cy="54.8" r="0.7" fill="#3cb04a" opacity="0.07"/>
<circle cx="625.5" cy="89.3" r="0.8" fill="#3cb04a" opacity="0.48"/>
<circle cx="628.6" cy="54.6" r="0.8" fill="#3cb04a" opacity="0.07"/>
<circle cx="614.2" cy="58.9" r="0.5" fill="#3cb04a" opacity="0.09"/>
<circle cx="618.2" cy="86.4" r="0.8" fill="#3cb04a" opacity="0.43"/>
<circle cx="634.3" cy="83.2" r="0.5" fill="#3cb04a" opacity="0.37"/>
<circle cx="614.8" cy="61.5" r="0.6" fill="#3cb04a" opacity="0.11"/>
<circle cx="631.9" cy="86.0" r="0.5" fill="#3cb04a" opacity="0.42"/>
<path d="M601,81 C608,80 614,83 620,82 C626,81 630,84 636,83" stroke="#2ea040" stroke-width="1.6" fill="none" opacity="0.8" filter="url(#blur05)"/>
<path d="M605,88 C612,86 620,88 628,86" stroke="#2a9038" stroke-width="1.2" fill="none" opacity="0.6" filter="url(#blur05)"/>
<ellipse cx="677.1" cy="78.5" rx="23.5" ry="20.8" fill="url(#au5)"/>
<path d="M658,67.5 C668,66 690,66 699,67" stroke="#0a7a2c" stroke-width="1.5" fill="none" opacity="0.6" filter="url(#blur05)"/>
<g clip-path="url(#cpau5)"><ellipse cx="664" cy="84" rx="12" ry="9" fill="#a8dc58" opacity="0.55" filter="url(#blur5)"/></g>
<path d="M655,76 C655,90 662,96 670,98.5" stroke="#a8e070" stroke-width="0.9" fill="none" opacity="0.5" filter="url(#blur05)"/>
<ellipse cx="608" cy="152" rx="16" ry="12" fill="#0c1a38" opacity="0.35" filter="url(#blur5)"/>
<circle cx="607.5" cy="142.3" r="0.9" fill="#8090b0"/>
<circle cx="636" cy="148.8" r="0.9" fill="#8090b0"/>
<path d="M681,111.3 C695,112 703,122 703.4,134 C704,147 697,158 684,160.2 C671,161 661,152 661,139 C661,125 668,112 681,111.3 Z" fill="url(#au8)"/>
<path d="M684,112 C696,114 703,124 703,136" stroke="#1c4ea8" stroke-width="2.5" fill="none" opacity="0.8"/>
<line x1="663" y1="140.5" x2="672" y2="140.5" stroke="#2a5aa0" stroke-width="1.6" opacity="0.8"/>
<rect x="714.2" y="41.4" width="9.4" height="60.2" fill="url(#cb1)" stroke="#333" stroke-width="0.6"/>
<rect x="714.2" y="108.6" width="9.4" height="60.2" fill="url(#cb2)" stroke="#333" stroke-width="0.6"/>
<text x="732.3" y="49.6" font-family="'Liberation Sans', sans-serif" font-size="11.4" fill="#222" stroke="#222" stroke-width="0.28">x10<tspan dy="-4.5" font-size="8">3</tspan></text>
<text x="732.3" y="66" font-family="'Liberation Sans', sans-serif" font-size="11.4" fill="#222" stroke="#222" stroke-width="0.28">100</text>
<text x="732.3" y="86" font-family="'Liberation Sans', sans-serif" font-size="11.4" fill="#222" stroke="#222" stroke-width="0.28">50</text>
<text x="732.3" y="118.6" font-family="'Liberation Sans', sans-serif" font-size="11.4" fill="#222" stroke="#222" stroke-width="0.28">x10<tspan dy="-4.5" font-size="8">3</tspan></text>
<text x="732.3" y="141.5" font-family="'Liberation Sans', sans-serif" font-size="11.4" fill="#222" stroke="#222" stroke-width="0.28">40</text>
<text x="732.3" y="157.6" font-family="'Liberation Sans', sans-serif" font-size="11.4" fill="#222" stroke="#222" stroke-width="0.28">20</text>
<line x1="723.6" y1="42.2" x2="725.5" y2="42.2" stroke="#444" stroke-width="0.8"/>
<line x1="723.6" y1="52" x2="725.5" y2="52" stroke="#444" stroke-width="0.8"/>
<line x1="723.6" y1="61.6" x2="726.5" y2="61.6" stroke="#444" stroke-width="0.8"/>
<line x1="723.6" y1="71.8" x2="725.5" y2="71.8" stroke="#444" stroke-width="0.8"/>
<line x1="723.6" y1="81.3" x2="726.5" y2="81.3" stroke="#444" stroke-width="0.8"/>
<line x1="723.6" y1="92.1" x2="725.5" y2="92.1" stroke="#444" stroke-width="0.8"/>
<line x1="723.6" y1="110" x2="725.5" y2="110" stroke="#444" stroke-width="0.8"/>
<line x1="723.6" y1="119" x2="725.5" y2="119" stroke="#444" stroke-width="0.8"/>
<line x1="723.6" y1="128.5" x2="725.5" y2="128.5" stroke="#444" stroke-width="0.8"/>
<line x1="723.6" y1="137.4" x2="726.5" y2="137.4" stroke="#444" stroke-width="0.8"/>
<line x1="723.6" y1="145.5" x2="725.5" y2="145.5" stroke="#444" stroke-width="0.8"/>
<line x1="723.6" y1="153.6" x2="726.5" y2="153.6" stroke="#444" stroke-width="0.8"/>
<line x1="723.6" y1="162" x2="725.5" y2="162" stroke="#444" stroke-width="0.8"/>
<line x1="76.3" y1="284.2" x2="76.3" y2="416.2" stroke="#333" stroke-width="1.1"/>
<line x1="75.8" y1="416.2" x2="284.4" y2="416.2" stroke="#333" stroke-width="1.1"/>
<line x1="73.3" y1="405.3" x2="76.3" y2="405.3" stroke="#333" stroke-width="0.9"/>
<text x="71" y="407.8" font-family="'Liberation Sans', sans-serif" font-size="7" fill="#333" text-anchor="end" stroke="#333" stroke-width="0.28">10<tspan dy="-3" font-size="5">4</tspan></text>
<line x1="73.3" y1="371.6" x2="76.3" y2="371.6" stroke="#333" stroke-width="0.9"/>
<text x="71" y="374.1" font-family="'Liberation Sans', sans-serif" font-size="7" fill="#333" text-anchor="end" stroke="#333" stroke-width="0.28">10<tspan dy="-3" font-size="5">5</tspan></text>
<line x1="73.3" y1="337.9" x2="76.3" y2="337.9" stroke="#333" stroke-width="0.9"/>
<text x="71" y="340.4" font-family="'Liberation Sans', sans-serif" font-size="7" fill="#333" text-anchor="end" stroke="#333" stroke-width="0.28">10<tspan dy="-3" font-size="5">6</tspan></text>
<line x1="73.3" y1="304.2" x2="76.3" y2="304.2" stroke="#333" stroke-width="0.9"/>
<text x="71" y="306.7" font-family="'Liberation Sans', sans-serif" font-size="7" fill="#333" text-anchor="end" stroke="#333" stroke-width="0.28">10<tspan dy="-3" font-size="5">7</tspan></text>
<line x1="74.8" y1="415.4" x2="76.3" y2="415.4" stroke="#333" stroke-width="0.6"/>
<line x1="74.8" y1="412.8" x2="76.3" y2="412.8" stroke="#333" stroke-width="0.6"/>
<line x1="74.8" y1="410.5" x2="76.3" y2="410.5" stroke="#333" stroke-width="0.6"/>
<line x1="74.8" y1="408.6" x2="76.3" y2="408.6" stroke="#333" stroke-width="0.6"/>
<line x1="74.8" y1="406.8" x2="76.3" y2="406.8" stroke="#333" stroke-width="0.6"/>
<line x1="74.8" y1="395.2" x2="76.3" y2="395.2" stroke="#333" stroke-width="0.6"/>
<line x1="74.8" y1="389.2" x2="76.3" y2="389.2" stroke="#333" stroke-width="0.6"/>
<line x1="74.8" y1="385.0" x2="76.3" y2="385.0" stroke="#333" stroke-width="0.6"/>
<line x1="74.8" y1="381.7" x2="76.3" y2="381.7" stroke="#333" stroke-width="0.6"/>
<line x1="74.8" y1="379.1" x2="76.3" y2="379.1" stroke="#333" stroke-width="0.6"/>
<line x1="74.8" y1="376.8" x2="76.3" y2="376.8" stroke="#333" stroke-width="0.6"/>
<line x1="74.8" y1="374.9" x2="76.3" y2="374.9" stroke="#333" stroke-width="0.6"/>
<line x1="74.8" y1="373.1" x2="76.3" y2="373.1" stroke="#333" stroke-width="0.6"/>
<line x1="74.8" y1="361.5" x2="76.3" y2="361.5" stroke="#333" stroke-width="0.6"/>
<line x1="74.8" y1="355.5" x2="76.3" y2="355.5" stroke="#333" stroke-width="0.6"/>
<line x1="74.8" y1="351.3" x2="76.3" y2="351.3" stroke="#333" stroke-width="0.6"/>
<line x1="74.8" y1="348.0" x2="76.3" y2="348.0" stroke="#333" stroke-width="0.6"/>
<line x1="74.8" y1="345.4" x2="76.3" y2="345.4" stroke="#333" stroke-width="0.6"/>
<line x1="74.8" y1="343.1" x2="76.3" y2="343.1" stroke="#333" stroke-width="0.6"/>
<line x1="74.8" y1="341.2" x2="76.3" y2="341.2" stroke="#333" stroke-width="0.6"/>
<line x1="74.8" y1="339.4" x2="76.3" y2="339.4" stroke="#333" stroke-width="0.6"/>
<line x1="74.8" y1="327.8" x2="76.3" y2="327.8" stroke="#333" stroke-width="0.6"/>
<line x1="74.8" y1="321.8" x2="76.3" y2="321.8" stroke="#333" stroke-width="0.6"/>
<line x1="74.8" y1="317.6" x2="76.3" y2="317.6" stroke="#333" stroke-width="0.6"/>
<line x1="74.8" y1="314.3" x2="76.3" y2="314.3" stroke="#333" stroke-width="0.6"/>
<line x1="74.8" y1="311.7" x2="76.3" y2="311.7" stroke="#333" stroke-width="0.6"/>
<line x1="74.8" y1="309.4" x2="76.3" y2="309.4" stroke="#333" stroke-width="0.6"/>
<line x1="74.8" y1="307.5" x2="76.3" y2="307.5" stroke="#333" stroke-width="0.6"/>
<line x1="74.8" y1="305.7" x2="76.3" y2="305.7" stroke="#333" stroke-width="0.6"/>
<line x1="74.8" y1="294.1" x2="76.3" y2="294.1" stroke="#333" stroke-width="0.6"/>
<line x1="74.8" y1="288.1" x2="76.3" y2="288.1" stroke="#333" stroke-width="0.6"/>
<line x1="76.3" y1="416.2" x2="76.3" y2="419" stroke="#333" stroke-width="0.9"/>
<text x="77.8" y="427" font-family="'Liberation Sans', sans-serif" font-size="7" fill="#333" text-anchor="middle" stroke="#333" stroke-width="0.28">10<tspan dy='-3' font-size='5'>−9</tspan></text>
<line x1="104.9" y1="416.2" x2="104.9" y2="419" stroke="#333" stroke-width="0.9"/>
<text x="106.4" y="427" font-family="'Liberation Sans', sans-serif" font-size="7" fill="#333" text-anchor="middle" stroke="#333" stroke-width="0.28">10<tspan dy='-3' font-size='5'>−10</tspan></text>
<line x1="133.5" y1="416.2" x2="133.5" y2="419" stroke="#333" stroke-width="0.9"/>
<text x="135.0" y="427" font-family="'Liberation Sans', sans-serif" font-size="7" fill="#333" text-anchor="middle" stroke="#333" stroke-width="0.28">10<tspan dy='-3' font-size='5'>−11</tspan></text>
<line x1="162.1" y1="416.2" x2="162.1" y2="419" stroke="#333" stroke-width="0.9"/>
<text x="163.6" y="427" font-family="'Liberation Sans', sans-serif" font-size="7" fill="#333" text-anchor="middle" stroke="#333" stroke-width="0.28">10<tspan dy='-3' font-size='5'>−12</tspan></text>
<line x1="190.7" y1="416.2" x2="190.7" y2="419" stroke="#333" stroke-width="0.9"/>
<text x="192.2" y="427" font-family="'Liberation Sans', sans-serif" font-size="7" fill="#333" text-anchor="middle" stroke="#333" stroke-width="0.28">10<tspan dy='-3' font-size='5'>−13</tspan></text>
<line x1="219.3" y1="416.2" x2="219.3" y2="419" stroke="#333" stroke-width="0.9"/>
<text x="220.8" y="427" font-family="'Liberation Sans', sans-serif" font-size="7" fill="#333" text-anchor="middle" stroke="#333" stroke-width="0.28">10<tspan dy='-3' font-size='5'>−14</tspan></text>
<line x1="247.9" y1="416.2" x2="247.9" y2="419" stroke="#333" stroke-width="0.9"/>
<text x="249.4" y="427" font-family="'Liberation Sans', sans-serif" font-size="7" fill="#333" text-anchor="middle" stroke="#333" stroke-width="0.28">10<tspan dy='-3' font-size='5'>−15</tspan></text>
<line x1="276.5" y1="416.2" x2="276.5" y2="419" stroke="#333" stroke-width="0.9"/>
<text x="276.5" y="427" font-family="'Liberation Sans', sans-serif" font-size="7" fill="#333" text-anchor="middle" stroke="#333" stroke-width="0.28">Blank</text>
<line x1="84.9" y1="416.2" x2="84.9" y2="417.8" stroke="#333" stroke-width="0.6"/>
<line x1="89.9" y1="416.2" x2="89.9" y2="417.8" stroke="#333" stroke-width="0.6"/>
<line x1="93.5" y1="416.2" x2="93.5" y2="417.8" stroke="#333" stroke-width="0.6"/>
<line x1="96.3" y1="416.2" x2="96.3" y2="417.8" stroke="#333" stroke-width="0.6"/>
<line x1="98.6" y1="416.2" x2="98.6" y2="417.8" stroke="#333" stroke-width="0.6"/>
<line x1="100.5" y1="416.2" x2="100.5" y2="417.8" stroke="#333" stroke-width="0.6"/>
<line x1="102.1" y1="416.2" x2="102.1" y2="417.8" stroke="#333" stroke-width="0.6"/>
<line x1="103.6" y1="416.2" x2="103.6" y2="417.8" stroke="#333" stroke-width="0.6"/>
<line x1="113.5" y1="416.2" x2="113.5" y2="417.8" stroke="#333" stroke-width="0.6"/>
<line x1="118.5" y1="416.2" x2="118.5" y2="417.8" stroke="#333" stroke-width="0.6"/>
<line x1="122.1" y1="416.2" x2="122.1" y2="417.8" stroke="#333" stroke-width="0.6"/>
<line x1="124.9" y1="416.2" x2="124.9" y2="417.8" stroke="#333" stroke-width="0.6"/>
<line x1="127.2" y1="416.2" x2="127.2" y2="417.8" stroke="#333" stroke-width="0.6"/>
<line x1="129.1" y1="416.2" x2="129.1" y2="417.8" stroke="#333" stroke-width="0.6"/>
<line x1="130.7" y1="416.2" x2="130.7" y2="417.8" stroke="#333" stroke-width="0.6"/>
<line x1="132.2" y1="416.2" x2="132.2" y2="417.8" stroke="#333" stroke-width="0.6"/>
<line x1="142.1" y1="416.2" x2="142.1" y2="417.8" stroke="#333" stroke-width="0.6"/>
<line x1="147.1" y1="416.2" x2="147.1" y2="417.8" stroke="#333" stroke-width="0.6"/>
<line x1="150.7" y1="416.2" x2="150.7" y2="417.8" stroke="#333" stroke-width="0.6"/>
<line x1="153.5" y1="416.2" x2="153.5" y2="417.8" stroke="#333" stroke-width="0.6"/>
<line x1="155.8" y1="416.2" x2="155.8" y2="417.8" stroke="#333" stroke-width="0.6"/>
<line x1="157.7" y1="416.2" x2="157.7" y2="417.8" stroke="#333" stroke-width="0.6"/>
<line x1="159.3" y1="416.2" x2="159.3" y2="417.8" stroke="#333" stroke-width="0.6"/>
<line x1="160.8" y1="416.2" x2="160.8" y2="417.8" stroke="#333" stroke-width="0.6"/>
<line x1="170.7" y1="416.2" x2="170.7" y2="417.8" stroke="#333" stroke-width="0.6"/>
<line x1="175.7" y1="416.2" x2="175.7" y2="417.8" stroke="#333" stroke-width="0.6"/>
<line x1="179.3" y1="416.2" x2="179.3" y2="417.8" stroke="#333" stroke-width="0.6"/>
<line x1="182.1" y1="416.2" x2="182.1" y2="417.8" stroke="#333" stroke-width="0.6"/>
<line x1="184.4" y1="416.2" x2="184.4" y2="417.8" stroke="#333" stroke-width="0.6"/>
<line x1="186.3" y1="416.2" x2="186.3" y2="417.8" stroke="#333" stroke-width="0.6"/>
<line x1="187.9" y1="416.2" x2="187.9" y2="417.8" stroke="#333" stroke-width="0.6"/>
<line x1="189.4" y1="416.2" x2="189.4" y2="417.8" stroke="#333" stroke-width="0.6"/>
<line x1="199.3" y1="416.2" x2="199.3" y2="417.8" stroke="#333" stroke-width="0.6"/>
<line x1="204.3" y1="416.2" x2="204.3" y2="417.8" stroke="#333" stroke-width="0.6"/>
<line x1="207.9" y1="416.2" x2="207.9" y2="417.8" stroke="#333" stroke-width="0.6"/>
<line x1="210.7" y1="416.2" x2="210.7" y2="417.8" stroke="#333" stroke-width="0.6"/>
<line x1="213.0" y1="416.2" x2="213.0" y2="417.8" stroke="#333" stroke-width="0.6"/>
<line x1="214.9" y1="416.2" x2="214.9" y2="417.8" stroke="#333" stroke-width="0.6"/>
<line x1="216.5" y1="416.2" x2="216.5" y2="417.8" stroke="#333" stroke-width="0.6"/>
<line x1="218.0" y1="416.2" x2="218.0" y2="417.8" stroke="#333" stroke-width="0.6"/>
<line x1="227.9" y1="416.2" x2="227.9" y2="417.8" stroke="#333" stroke-width="0.6"/>
<line x1="232.9" y1="416.2" x2="232.9" y2="417.8" stroke="#333" stroke-width="0.6"/>
<line x1="236.5" y1="416.2" x2="236.5" y2="417.8" stroke="#333" stroke-width="0.6"/>
<line x1="239.3" y1="416.2" x2="239.3" y2="417.8" stroke="#333" stroke-width="0.6"/>
<line x1="241.6" y1="416.2" x2="241.6" y2="417.8" stroke="#333" stroke-width="0.6"/>
<line x1="243.5" y1="416.2" x2="243.5" y2="417.8" stroke="#333" stroke-width="0.6"/>
<line x1="245.1" y1="416.2" x2="245.1" y2="417.8" stroke="#333" stroke-width="0.6"/>
<line x1="246.6" y1="416.2" x2="246.6" y2="417.8" stroke="#333" stroke-width="0.6"/>
<line x1="256.5" y1="416.2" x2="256.5" y2="417.8" stroke="#333" stroke-width="0.6"/>
<line x1="261.5" y1="416.2" x2="261.5" y2="417.8" stroke="#333" stroke-width="0.6"/>
<line x1="265.1" y1="416.2" x2="265.1" y2="417.8" stroke="#333" stroke-width="0.6"/>
<line x1="267.9" y1="416.2" x2="267.9" y2="417.8" stroke="#333" stroke-width="0.6"/>
<line x1="270.2" y1="416.2" x2="270.2" y2="417.8" stroke="#333" stroke-width="0.6"/>
<line x1="272.1" y1="416.2" x2="272.1" y2="417.8" stroke="#333" stroke-width="0.6"/>
<line x1="273.7" y1="416.2" x2="273.7" y2="417.8" stroke="#333" stroke-width="0.6"/>
<line x1="275.2" y1="416.2" x2="275.2" y2="417.8" stroke="#333" stroke-width="0.6"/>
<text x="181" y="439.5" font-family="'Liberation Sans', sans-serif" font-size="7" fill="#333" text-anchor="middle" stroke="#333" stroke-width="0.28">CEA concentration (M)</text>
<text transform="translate(53.3,351.4) rotate(-90)" font-family="'Liberation Sans', sans-serif" font-size="6.9" fill="#333" text-anchor="middle" stroke="#333" stroke-width="0.28">Fluorescence intensity</text>
<line x1="104.9" y1="290.5" x2="104.9" y2="297.5" stroke="#8890c0" stroke-width="0.6"/>
<rect x="103.4" y="292.5" width="3.0" height="3.0" fill="#2e3478"/>
<line x1="133.5" y1="310.8" x2="133.5" y2="317.8" stroke="#8890c0" stroke-width="0.6"/>
<rect x="132.0" y="312.8" width="3.0" height="3.0" fill="#2e3478"/>
<line x1="162.1" y1="336.1" x2="162.1" y2="343.1" stroke="#8890c0" stroke-width="0.6"/>
<rect x="160.6" y="338.1" width="3.0" height="3.0" fill="#2e3478"/>
<line x1="190.7" y1="359.3" x2="190.7" y2="366.3" stroke="#8890c0" stroke-width="0.6"/>
<rect x="189.2" y="361.3" width="3.0" height="3.0" fill="#2e3478"/>
<line x1="219.3" y1="366.7" x2="219.3" y2="373.7" stroke="#8890c0" stroke-width="0.6"/>
<rect x="217.8" y="368.7" width="3.0" height="3.0" fill="#2e3478"/>
<line x1="247.9" y1="377.2" x2="247.9" y2="384.2" stroke="#8890c0" stroke-width="0.6"/>
<rect x="246.4" y="379.2" width="3.0" height="3.0" fill="#2e3478"/>
<line x1="276.5" y1="394.3" x2="276.5" y2="401.3" stroke="#8890c0" stroke-width="0.6"/>
<rect x="275.0" y="396.3" width="3.0" height="3.0" fill="#2e3478"/>
<circle cx="104.9" cy="353.6" r="2.1" fill="#111"/>
<circle cx="133.5" cy="378.6" r="2.1" fill="#111"/>
<line x1="162.1" y1="406.3" x2="162.1" y2="412.3" stroke="#666" stroke-width="0.6"/>
<line x1="160.9" y1="406.3" x2="163.3" y2="406.3" stroke="#666" stroke-width="0.6"/>
<circle cx="162.1" cy="412.3" r="2.1" fill="#111"/>
<line x1="190.7" y1="403.0" x2="190.7" y2="409.0" stroke="#666" stroke-width="0.6"/>
<line x1="189.5" y1="403.0" x2="191.9" y2="403.0" stroke="#666" stroke-width="0.6"/>
<circle cx="190.7" cy="409.0" r="2.1" fill="#111"/>
<line x1="219.3" y1="406.7" x2="219.3" y2="412.7" stroke="#666" stroke-width="0.6"/>
<line x1="218.1" y1="406.7" x2="220.5" y2="406.7" stroke="#666" stroke-width="0.6"/>
<circle cx="219.3" cy="412.7" r="2.1" fill="#111"/>
<line x1="247.9" y1="406.5" x2="247.9" y2="412.5" stroke="#666" stroke-width="0.6"/>
<line x1="246.7" y1="406.5" x2="249.1" y2="406.5" stroke="#666" stroke-width="0.6"/>
<circle cx="247.9" cy="412.5" r="2.1" fill="#111"/>
<line x1="276.5" y1="410.0" x2="276.5" y2="416.0" stroke="#666" stroke-width="0.6"/>
<line x1="275.3" y1="410.0" x2="277.7" y2="410.0" stroke="#666" stroke-width="0.6"/>
<circle cx="276.5" cy="416.0" r="2.1" fill="#111"/>
<line x1="166" y1="335.9" x2="186.6" y2="335.9" stroke="#3a4480" stroke-width="1"/>
<polygon points="163.5,335.9 167,334.4 167,337.4" fill="#3a4480"/>
<line x1="197" y1="404.4" x2="289" y2="404.4" stroke="#111" stroke-width="1.1"/>
<polygon points="193.3,404.4 198,402.4 198,406.4" fill="#111"/>
<rect x="186.4" y="261.7" width="99.20000000000002" height="96.69999999999999" fill="#fff" stroke="#9a9aa4" stroke-width="1"/>
<polygon points="194.4,332.5 219.5,348.4 219.5,352.6 194.4,336.6" fill="#3a1408"/>
<polygon points="219.5,348.4 267.9,336.7 267.9,340.5 219.5,352.6" fill="#2a0e06"/>
<polygon points="194.4,332.5 238.2,323.8 267.9,336.7 219.5,348.4" fill="#c05a2c"/>
<ellipse cx="211.6" cy="337.1" rx="1.4" ry="1.0" fill="#4a160a" opacity="0.6"/>
<ellipse cx="213.2" cy="329.1" rx="2.2" ry="0.9" fill="#4a160a" opacity="0.6"/>
<ellipse cx="255.9" cy="335.4" rx="1.8" ry="0.7" fill="#4a160a" opacity="0.6"/>
<ellipse cx="232.7" cy="342.3" rx="1.8" ry="0.6" fill="#4a160a" opacity="0.6"/>
<ellipse cx="250.1" cy="338.4" rx="1.4" ry="0.6" fill="#4a160a" opacity="0.6"/>
<ellipse cx="258.0" cy="335.3" rx="1.9" ry="1.1" fill="#4a160a" opacity="0.6"/>
<ellipse cx="223.2" cy="343.8" rx="1.5" ry="1.2" fill="#4a160a" opacity="0.6"/>
<ellipse cx="240.4" cy="330.8" rx="1.6" ry="0.8" fill="#4a160a" opacity="0.6"/>
<ellipse cx="220.0" cy="338.2" rx="1.7" ry="1.1" fill="#4a160a" opacity="0.6"/>
<ellipse cx="243.7" cy="327.2" rx="2.0" ry="1.2" fill="#4a160a" opacity="0.6"/>
<ellipse cx="260.9" cy="337.8" rx="1.9" ry="0.7" fill="#4a160a" opacity="0.6"/>
<ellipse cx="255.5" cy="337.9" rx="1.3" ry="0.6" fill="#4a160a" opacity="0.6"/>
<ellipse cx="224.4" cy="326.9" rx="1.4" ry="1.1" fill="#4a160a" opacity="0.6"/>
<ellipse cx="247.2" cy="331.6" rx="2.1" ry="1.2" fill="#4a160a" opacity="0.6"/>
<ellipse cx="208.6" cy="333.6" rx="1.7" ry="0.7" fill="#4a160a" opacity="0.6"/>
<ellipse cx="228.1" cy="336.5" rx="1.8" ry="1.0" fill="#4a160a" opacity="0.6"/>
<ellipse cx="235.4" cy="339.1" rx="2.1" ry="0.9" fill="#4a160a" opacity="0.6"/>
<ellipse cx="225.9" cy="341.7" rx="1.3" ry="0.8" fill="#4a160a" opacity="0.6"/>
<ellipse cx="266.4" cy="336.5" rx="1.7" ry="0.6" fill="#4a160a" opacity="0.6"/>
<ellipse cx="224.7" cy="338.1" rx="1.0" ry="1.0" fill="#4a160a" opacity="0.6"/>
<ellipse cx="240.4" cy="335.1" rx="1.8" ry="0.8" fill="#4a160a" opacity="0.6"/>
<ellipse cx="212.6" cy="334.9" rx="1.7" ry="0.8" fill="#4a160a" opacity="0.6"/>
<ellipse cx="220.9" cy="331.1" rx="1.4" ry="1.0" fill="#4a160a" opacity="0.6"/>
<ellipse cx="216.2" cy="332.8" rx="1.9" ry="0.6" fill="#4a160a" opacity="0.6"/>
<ellipse cx="236.1" cy="342.1" rx="1.4" ry="0.7" fill="#4a160a" opacity="0.6"/>
<ellipse cx="207.9" cy="334.3" rx="1.8" ry="0.7" fill="#4a160a" opacity="0.6"/>
<ellipse cx="217.8" cy="331.7" rx="2.0" ry="0.9" fill="#4a160a" opacity="0.6"/>
<ellipse cx="218.9" cy="339.9" rx="2.1" ry="0.9" fill="#4a160a" opacity="0.6"/>
<ellipse cx="233.2" cy="328.0" rx="2.0" ry="1.1" fill="#4a160a" opacity="0.6"/>
<ellipse cx="207.6" cy="330.2" rx="2.0" ry="1.0" fill="#4a160a" opacity="0.6"/>
<ellipse cx="253.7" cy="332.0" rx="1.2" ry="0.8" fill="#4a160a" opacity="0.6"/>
<ellipse cx="219.6" cy="333.8" rx="1.5" ry="0.8" fill="#4a160a" opacity="0.6"/>
<ellipse cx="243.1" cy="336.5" rx="1.3" ry="0.8" fill="#4a160a" opacity="0.6"/>
<ellipse cx="237.6" cy="330.5" rx="2.0" ry="0.6" fill="#4a160a" opacity="0.6"/>
<ellipse cx="260.6" cy="338.0" rx="1.0" ry="1.0" fill="#4a160a" opacity="0.6"/>
<ellipse cx="206.7" cy="330.8" rx="1.8" ry="0.9" fill="#4a160a" opacity="0.6"/>
<ellipse cx="239.3" cy="331.9" rx="1.3" ry="1.1" fill="#4a160a" opacity="0.6"/>
<ellipse cx="229.3" cy="343.3" rx="1.4" ry="0.7" fill="#4a160a" opacity="0.6"/>
<ellipse cx="233.6" cy="344.2" rx="1.2" ry="1.1" fill="#4a160a" opacity="0.6"/>
<ellipse cx="213.9" cy="336.7" rx="1.5" ry="0.9" fill="#4a160a" opacity="0.6"/>
<ellipse cx="200.4" cy="336.1" rx="1.4" ry="0.8" fill="#4a160a" opacity="0.6"/>
<ellipse cx="220.0" cy="339.8" rx="1.7" ry="0.8" fill="#4a160a" opacity="0.6"/>
<ellipse cx="208.1" cy="331.5" rx="1.1" ry="0.9" fill="#4a160a" opacity="0.6"/>
<ellipse cx="247.0" cy="332.9" rx="1.1" ry="0.7" fill="#4a160a" opacity="0.6"/>
<ellipse cx="221.6" cy="338.7" rx="1.9" ry="0.8" fill="#4a160a" opacity="0.6"/>
<ellipse cx="253.3" cy="339.2" rx="1.5" ry="0.8" fill="#4a160a" opacity="0.6"/>
<ellipse cx="230.7" cy="341.3" rx="1.5" ry="1.0" fill="#4a160a" opacity="0.6"/>
<ellipse cx="228.1" cy="329.4" rx="1.6" ry="1.0" fill="#4a160a" opacity="0.6"/>
<ellipse cx="199.3" cy="334.0" rx="1.5" ry="1.1" fill="#4a160a" opacity="0.6"/>
<ellipse cx="213.4" cy="335.1" rx="1.1" ry="1.1" fill="#4a160a" opacity="0.6"/>
<ellipse cx="252.6" cy="340.4" rx="1.9" ry="0.9" fill="#4a160a" opacity="0.6"/>
<ellipse cx="250.8" cy="336.3" rx="1.9" ry="0.7" fill="#4a160a" opacity="0.6"/>
<ellipse cx="212.5" cy="339.0" rx="1.9" ry="0.8" fill="#4a160a" opacity="0.6"/>
<ellipse cx="221.2" cy="333.3" rx="1.4" ry="0.9" fill="#4a160a" opacity="0.6"/>
<ellipse cx="200.2" cy="336.0" rx="2.2" ry="0.8" fill="#4a160a" opacity="0.6"/>
<ellipse cx="243.9" cy="336.4" rx="1.6" ry="1.0" fill="#4a160a" opacity="0.6"/>
<ellipse cx="261.8" cy="336.4" rx="1.5" ry="1.0" fill="#4a160a" opacity="0.6"/>
<ellipse cx="207.8" cy="330.0" rx="1.2" ry="1.0" fill="#4a160a" opacity="0.6"/>
<ellipse cx="217.3" cy="329.0" rx="1.8" ry="1.2" fill="#4a160a" opacity="0.6"/>
<ellipse cx="215.9" cy="341.3" rx="1.5" ry="1.1" fill="#4a160a" opacity="0.6"/>
<ellipse cx="237.3" cy="329.9" rx="1.3" ry="0.6" fill="#4a160a" opacity="0.6"/>
<ellipse cx="229.5" cy="333.0" rx="1.2" ry="0.8" fill="#4a160a" opacity="0.6"/>
<ellipse cx="217.8" cy="343.1" rx="1.2" ry="1.2" fill="#4a160a" opacity="0.6"/>
<ellipse cx="229.5" cy="338.6" rx="1.6" ry="1.1" fill="#4a160a" opacity="0.6"/>
<ellipse cx="254.8" cy="337.5" rx="1.6" ry="1.0" fill="#4a160a" opacity="0.6"/>
<ellipse cx="257.4" cy="333.4" rx="1.9" ry="1.2" fill="#4a160a" opacity="0.6"/>
<ellipse cx="228.6" cy="329.0" rx="1.3" ry="1.0" fill="#4a160a" opacity="0.6"/>
<ellipse cx="217.2" cy="334.0" rx="1.9" ry="0.7" fill="#4a160a" opacity="0.6"/>
<ellipse cx="215.6" cy="332.3" rx="1.7" ry="1.0" fill="#4a160a" opacity="0.6"/>
<ellipse cx="226.3" cy="335.6" rx="1.3" ry="1.0" fill="#4a160a" opacity="0.6"/>
<ellipse cx="234.3" cy="326.1" rx="1.3" ry="1.0" fill="#4a160a" opacity="0.6"/>
<ellipse cx="215.9" cy="340.6" rx="1.8" ry="1.1" fill="#4a160a" opacity="0.6"/>
<ellipse cx="213.7" cy="342.6" rx="2.2" ry="1.0" fill="#4a160a" opacity="0.6"/>
<ellipse cx="233.7" cy="325.9" rx="1.6" ry="0.8" fill="#4a160a" opacity="0.6"/>
<ellipse cx="247.1" cy="340.6" rx="1.7" ry="0.7" fill="#4a160a" opacity="0.6"/>
<ellipse cx="241.8" cy="339.4" rx="1.2" ry="1.1" fill="#4a160a" opacity="0.6"/>
<ellipse cx="242.5" cy="326.2" rx="2.1" ry="0.7" fill="#4a160a" opacity="0.6"/>
<ellipse cx="218.5" cy="341.7" rx="1.7" ry="0.9" fill="#4a160a" opacity="0.6"/>
<ellipse cx="241.9" cy="334.9" rx="1.4" ry="0.7" fill="#4a160a" opacity="0.6"/>
<ellipse cx="249.8" cy="337.1" rx="1.9" ry="0.8" fill="#4a160a" opacity="0.6"/>
<ellipse cx="213.7" cy="333.0" rx="2.0" ry="0.6" fill="#4a160a" opacity="0.6"/>
<ellipse cx="231.3" cy="329.4" rx="1.9" ry="0.8" fill="#4a160a" opacity="0.6"/>
<ellipse cx="218.6" cy="333.5" rx="1.6" ry="1.1" fill="#4a160a" opacity="0.6"/>
<ellipse cx="220.1" cy="345.0" rx="1.1" ry="0.8" fill="#4a160a" opacity="0.6"/>
<ellipse cx="224.8" cy="342.3" rx="2.0" ry="1.0" fill="#4a160a" opacity="0.6"/>
<ellipse cx="237.8" cy="326.8" rx="1.5" ry="0.7" fill="#4a160a" opacity="0.6"/>
<ellipse cx="233.0" cy="337.8" rx="1.2" ry="0.8" fill="#4a160a" opacity="0.6"/>
<ellipse cx="234.9" cy="338.2" rx="1.8" ry="1.2" fill="#4a160a" opacity="0.6"/>
<ellipse cx="244.8" cy="330.8" rx="2.0" ry="0.9" fill="#4a160a" opacity="0.6"/>
<ellipse cx="238.5" cy="341.9" rx="1.0" ry="1.1" fill="#4a160a" opacity="0.6"/>
<ellipse cx="243.0" cy="335.8" rx="1.6" ry="0.9" fill="#4a160a" opacity="0.6"/>
<ellipse cx="208.3" cy="336.8" rx="1.0" ry="0.9" fill="#4a160a" opacity="0.6"/>
<ellipse cx="241.8" cy="334.5" rx="1.7" ry="1.2" fill="#4a160a" opacity="0.6"/>
<ellipse cx="252.6" cy="339.2" rx="1.1" ry="0.8" fill="#4a160a" opacity="0.6"/>
<ellipse cx="217.9" cy="345.6" rx="1.8" ry="0.7" fill="#4a160a" opacity="0.6"/>
<ellipse cx="257.5" cy="338.6" rx="2.1" ry="1.0" fill="#4a160a" opacity="0.6"/>
<ellipse cx="248.7" cy="331.9" rx="2.0" ry="1.2" fill="#4a160a" opacity="0.6"/>
<ellipse cx="257.7" cy="334.4" rx="1.9" ry="0.9" fill="#4a160a" opacity="0.6"/>
<ellipse cx="205.9" cy="335.9" rx="1.8" ry="0.9" fill="#4a160a" opacity="0.6"/>
<ellipse cx="225.2" cy="339.9" rx="1.4" ry="0.9" fill="#4a160a" opacity="0.6"/>
<ellipse cx="250.0" cy="333.4" rx="1.2" ry="1.1" fill="#4a160a" opacity="0.6"/>
<ellipse cx="247.3" cy="332.5" rx="1.4" ry="0.9" fill="#4a160a" opacity="0.6"/>
<ellipse cx="238.1" cy="328.8" rx="1.0" ry="0.7" fill="#4a160a" opacity="0.6"/>
<ellipse cx="228.0" cy="328.1" rx="1.3" ry="0.7" fill="#4a160a" opacity="0.6"/>
<ellipse cx="223.9" cy="327.4" rx="1.0" ry="0.7" fill="#4a160a" opacity="0.6"/>
<ellipse cx="206.4" cy="335.7" rx="1.1" ry="0.6" fill="#4a160a" opacity="0.6"/>
<ellipse cx="227.2" cy="333.6" rx="1.8" ry="0.6" fill="#4a160a" opacity="0.6"/>
<ellipse cx="223.8" cy="333.3" rx="1.0" ry="1.2" fill="#4a160a" opacity="0.6"/>
<ellipse cx="229.1" cy="327.3" rx="1.7" ry="0.8" fill="#4a160a" opacity="0.6"/>
<ellipse cx="247.8" cy="330.2" rx="1.9" ry="0.9" fill="#4a160a" opacity="0.6"/>
<ellipse cx="212.5" cy="329.9" rx="2.0" ry="1.0" fill="#4a160a" opacity="0.6"/>
<ellipse cx="216.5" cy="338.8" rx="2.1" ry="0.7" fill="#4a160a" opacity="0.6"/>
<ellipse cx="215.7" cy="345.1" rx="1.1" ry="0.8" fill="#4a160a" opacity="0.6"/>
<ellipse cx="218.7" cy="340.7" rx="2.1" ry="0.7" fill="#4a160a" opacity="0.6"/>
<ellipse cx="255.8" cy="337.4" rx="2.1" ry="0.8" fill="#4a160a" opacity="0.6"/>
<ellipse cx="224.7" cy="329.0" rx="1.9" ry="0.9" fill="#4a160a" opacity="0.6"/>
<ellipse cx="247.3" cy="338.7" rx="1.9" ry="0.8" fill="#4a160a" opacity="0.6"/>
<ellipse cx="230.0" cy="327.0" rx="1.9" ry="0.6" fill="#4a160a" opacity="0.6"/>
<ellipse cx="228.6" cy="342.7" rx="1.8" ry="0.7" fill="#4a160a" opacity="0.6"/>
<ellipse cx="258.5" cy="334.7" rx="2.1" ry="1.0" fill="#4a160a" opacity="0.6"/>
<ellipse cx="218.7" cy="332.6" rx="1.1" ry="0.8" fill="#4a160a" opacity="0.6"/>
<ellipse cx="236.1" cy="325.9" rx="1.1" ry="1.0" fill="#4a160a" opacity="0.6"/>
<ellipse cx="210.3" cy="337.6" rx="1.5" ry="1.1" fill="#4a160a" opacity="0.6"/>
<ellipse cx="238.7" cy="343.5" rx="1.6" ry="0.7" fill="#4a160a" opacity="0.6"/>
<ellipse cx="200.3" cy="335.1" rx="1.3" ry="1.1" fill="#4a160a" opacity="0.6"/>
<ellipse cx="239.5" cy="339.7" rx="1.9" ry="1.1" fill="#4a160a" opacity="0.6"/>
<ellipse cx="219.6" cy="338.7" rx="1.5" ry="0.7" fill="#4a160a" opacity="0.6"/>
<ellipse cx="255.8" cy="338.5" rx="2.0" ry="0.7" fill="#4a160a" opacity="0.6"/>
<ellipse cx="233.9" cy="335.1" rx="1.9" ry="0.6" fill="#4a160a" opacity="0.6"/>
<ellipse cx="219.6" cy="335.6" rx="1.1" ry="0.9" fill="#4a160a" opacity="0.6"/>
<ellipse cx="248.4" cy="334.0" rx="1.8" ry="1.0" fill="#4a160a" opacity="0.6"/>
<ellipse cx="209.8" cy="332.1" rx="2.2" ry="0.8" fill="#4a160a" opacity="0.6"/>
<ellipse cx="233.6" cy="333.9" rx="2.1" ry="1.1" fill="#4a160a" opacity="0.6"/>
<ellipse cx="264.3" cy="335.6" rx="1.9" ry="0.8" fill="#4a160a" opacity="0.6"/>
<polyline points="222.29999999999998,313.9 230.6,322.4  239.5,313.9" fill="none" stroke="#e42630" stroke-width="4.6" stroke-linejoin="miter"/>
<line x1="230.6" y1="320.9" x2="230.6" y2="336" stroke="#e42630" stroke-width="5"/>
<polygon points="230.6,301.8 237.79999999999998,309 230.6,316.2 223.4,309" fill="#2ab3a6"/>
<line x1="229.5" y1="284.2" x2="229.5" y2="294.2" stroke="#2a80c4" stroke-width="3.6"/>
<polyline points="222.3,304.7 229.5,293.2 238.2,304.7" fill="none" stroke="#2a80c4" stroke-width="3.6"/>
<polyline points="229.2,282 240.3,280.7 246.5,272.5" fill="none" stroke="#7cc142" stroke-width="3.4" stroke-linejoin="round"/>
<line x1="240.3" y1="280.7" x2="240.8" y2="291" stroke="#7cc142" stroke-width="3.4"/>
<line x1="246.5" y1="272.5" x2="250.5" y2="275.0" stroke="#222" stroke-width="0.8"/>
<ellipse cx="261" cy="281.4" rx="12.1" ry="7.3" fill="#1ba2dc" stroke="#1a4a80" stroke-width="0.6"/>
<text x="261" y="283.4" font-family="'Liberation Sans', sans-serif" font-size="5.6" fill="#e8f6ff" text-anchor="middle" stroke="#e8f6ff" stroke-width="0.28">IR800</text>
<text x="230.6" y="275.4" font-family="'Liberation Sans', sans-serif" font-size="6.6" fill="#333" text-anchor="middle" stroke="#333" stroke-width="0.28">GαR</text>
<text x="207.3" y="296.8" font-family="'Liberation Sans', sans-serif" font-size="6.6" fill="#333" text-anchor="middle" stroke="#333" stroke-width="0.28">RαCEA</text>
<text x="241" y="311.3" font-family="'Liberation Sans', sans-serif" font-size="6.6" fill="#333" text-anchor="start" stroke="#333" stroke-width="0.28">CEA</text>
<text x="207.3" y="322.4" font-family="'Liberation Sans', sans-serif" font-size="6.6" fill="#333" text-anchor="middle" stroke="#333" stroke-width="0.28">MαCEA</text>
<text x="267.9" y="350" font-family="'Liberation Sans', sans-serif" font-size="6.6" fill="#333" text-anchor="middle" stroke="#333" stroke-width="0.28">Au/Au</text>
<rect x="288.7" y="326.6" width="99.90000000000003" height="94.39999999999998" fill="#fff" stroke="#9a9aa4" stroke-width="1"/>
<polygon points="297.4,398.2 318.7,413.2 318.7,417.6 297.4,402.4" fill="#1a2c34"/>
<polygon points="318.7,413.2 367.6,402.9 367.6,407 318.7,417.6" fill="#0e1a20"/>
<polygon points="297.4,398.2 339.2,390.3 367.6,402.9 318.7,413.2" fill="#a6d6e6"/>
<polyline points="324.3,378.4 332.6,386.9  341.5,378.4" fill="none" stroke="#e42630" stroke-width="4.6" stroke-linejoin="miter"/>
<line x1="332.6" y1="385.4" x2="332.6" y2="402.1" stroke="#e42630" stroke-width="5"/>
<polygon points="332.6,367.3 339.8,374.5 332.6,381.7 325.40000000000003,374.5" fill="#2ab3a6"/>
<line x1="331.5" y1="349.2" x2="331.5" y2="359.2" stroke="#2a80c4" stroke-width="3.6"/>
<polyline points="324.3,369.7 331.5,358.2 340.2,369.7" fill="none" stroke="#2a80c4" stroke-width="3.6"/>
<polyline points="331.3,346.5 343.2,343.7 349.5,336.8" fill="none" stroke="#7cc142" stroke-width="3.4" stroke-linejoin="round"/>
<line x1="343.2" y1="343.7" x2="343.2" y2="355.5" stroke="#7cc142" stroke-width="3.4"/>
<line x1="349.5" y1="336.8" x2="353.5" y2="339.3" stroke="#222" stroke-width="0.8"/>
<ellipse cx="363.7" cy="346" rx="11.8" ry="7.1" fill="#1ba2dc" stroke="#1a4a80" stroke-width="0.6"/>
<text x="363.7" y="348" font-family="'Liberation Sans', sans-serif" font-size="5.6" fill="#e8f6ff" text-anchor="middle" stroke="#e8f6ff" stroke-width="0.28">IR800</text>
<text x="333.3" y="339" font-family="'Liberation Sans', sans-serif" font-size="6.6" fill="#333" text-anchor="middle" stroke="#333" stroke-width="0.28">GαR</text>
<text x="310.8" y="361.9" font-family="'Liberation Sans', sans-serif" font-size="6.6" fill="#333" text-anchor="middle" stroke="#333" stroke-width="0.28">RαCEA</text>
<text x="344" y="375.3" font-family="'Liberation Sans', sans-serif" font-size="6.6" fill="#333" text-anchor="start" stroke="#333" stroke-width="0.28">CEA</text>
<text x="311.2" y="387" font-family="'Liberation Sans', sans-serif" font-size="6.6" fill="#333" text-anchor="middle" stroke="#333" stroke-width="0.28">MαCEA</text>
<text x="365.5" y="414" font-family="'Liberation Sans', sans-serif" font-size="6.6" fill="#333" text-anchor="middle" stroke="#333" stroke-width="0.28">Glass</text>
<text x="604" y="260.3" font-family="'Liberation Sans', sans-serif" font-size="12.3" fill="#222" text-anchor="middle" stroke="#222" stroke-width="0.28">µArray/Au</text>
<rect x="501.7" y="265.8" width="205" height="181.8" fill="#060606"/>
<circle cx="533.5" cy="291.7" r="3.8" fill="rgb(6,38,17)" stroke="rgb(7,61,23)" stroke-width="1.4" filter="url(#blur07)"/>
<circle cx="546.3" cy="291.7" r="3.8" fill="rgb(5,36,17)" stroke="rgb(7,57,22)" stroke-width="1.4" filter="url(#blur07)"/>
<circle cx="559.4" cy="291.7" r="3.8" fill="rgb(6,38,17)" stroke="rgb(7,61,23)" stroke-width="1.4" filter="url(#blur07)"/>
<circle cx="572.3" cy="291.7" r="5.8" fill="rgb(24,180,82)" opacity="0.3" filter="url(#blur1)"/>
<circle cx="572.3" cy="291.7" r="4.5" fill="rgb(24,180,82)" filter="url(#blur07)"/>
<circle cx="585.3" cy="291.7" r="5.8" fill="rgb(24,180,82)" opacity="0.3" filter="url(#blur1)"/>
<circle cx="585.3" cy="291.7" r="4.5" fill="rgb(24,180,82)" filter="url(#blur07)"/>
<circle cx="598.4" cy="291.7" r="5.8" fill="rgb(20,158,68)" opacity="0.3" filter="url(#blur1)"/>
<circle cx="598.4" cy="291.7" r="4.5" fill="rgb(20,158,68)" filter="url(#blur07)"/>
<circle cx="616" cy="291.7" r="5.8" fill="rgb(24,180,82)" opacity="0.3" filter="url(#blur1)"/>
<circle cx="616" cy="291.7" r="4.5" fill="rgb(24,180,82)" filter="url(#blur07)"/>
<circle cx="629" cy="291.7" r="5.8" fill="rgb(24,180,82)" opacity="0.3" filter="url(#blur1)"/>
<circle cx="629" cy="291.7" r="4.5" fill="rgb(24,180,82)" filter="url(#blur07)"/>
<circle cx="641.7" cy="291.7" r="5.8" fill="rgb(24,175,79)" opacity="0.3" filter="url(#blur1)"/>
<circle cx="641.7" cy="291.7" r="4.5" fill="rgb(24,175,79)" filter="url(#blur07)"/>
<circle cx="654.7" cy="291.7" r="4.5" fill="rgb(5,35,17)" filter="url(#blur07)"/>
<circle cx="667.5" cy="291.7" r="4.5" fill="rgb(5,35,17)" filter="url(#blur07)"/>
<circle cx="680.7" cy="291.7" r="4.5" fill="rgb(6,38,17)" filter="url(#blur07)"/>
<circle cx="533.5" cy="306.1" r="4.5" fill="rgb(5,29,15)" filter="url(#blur07)"/>
<circle cx="546.3" cy="306.1" r="4.5" fill="rgb(5,29,15)" filter="url(#blur07)"/>
<circle cx="559.4" cy="306.1" r="4.5" fill="rgb(5,29,15)" filter="url(#blur07)"/>
<circle cx="572.3" cy="306.1" r="5.8" fill="rgb(25,185,85)" opacity="0.3" filter="url(#blur1)"/>
<circle cx="572.3" cy="306.1" r="4.5" fill="rgb(25,185,85)" filter="url(#blur07)"/>
<circle cx="585.3" cy="306.1" r="5.8" fill="rgb(25,185,85)" opacity="0.3" filter="url(#blur1)"/>
<circle cx="585.3" cy="306.1" r="4.5" fill="rgb(25,185,85)" filter="url(#blur07)"/>
<circle cx="598.4" cy="306.1" r="5.8" fill="rgb(25,185,85)" opacity="0.3" filter="url(#blur1)"/>
<circle cx="598.4" cy="306.1" r="4.5" fill="rgb(25,185,85)" filter="url(#blur07)"/>
<circle cx="616" cy="306.1" r="4.4" fill="rgb(5,35,17)" filter="url(#blur07)"/>
<circle cx="629" cy="306.1" r="4.4" fill="rgb(5,34,16)" filter="url(#blur07)"/>
<circle cx="641.7" cy="306.1" r="4.4" fill="rgb(5,34,16)" filter="url(#blur07)"/>
<circle cx="654.7" cy="306.1" r="6.8999999999999995" fill="rgb(27,192,90)" opacity="0.3" filter="url(#blur1)"/>
<circle cx="654.7" cy="306.1" r="5.6" fill="rgb(27,192,90)" filter="url(#blur07)"/>
<circle cx="667.5" cy="306.1" r="6.8999999999999995" fill="rgb(27,192,90)" opacity="0.3" filter="url(#blur1)"/>
<circle cx="667.5" cy="306.1" r="5.6" fill="rgb(27,192,90)" filter="url(#blur07)"/>
<circle cx="680.7" cy="306.1" r="6.8999999999999995" fill="rgb(27,192,90)" opacity="0.3" filter="url(#blur1)"/>
<circle cx="680.7" cy="306.1" r="5.6" fill="rgb(27,192,90)" filter="url(#blur07)"/>
<circle cx="533.5" cy="321" r="3.2" fill="rgb(5,35,17)" filter="url(#blur07)"/>
<circle cx="546.3" cy="321" r="3.2" fill="rgb(5,33,16)" filter="url(#blur07)"/>
<circle cx="559.4" cy="321" r="3.2" fill="rgb(5,33,16)" filter="url(#blur07)"/>
<circle cx="572.3" cy="321" r="3.2" fill="rgb(5,22,14)" filter="url(#blur07)"/>
<circle cx="585.3" cy="321" r="3.2" fill="rgb(5,22,14)" filter="url(#blur07)"/>
<circle cx="598.4" cy="321" r="3.2" fill="rgb(5,25,15)" filter="url(#blur07)"/>
<circle cx="616" cy="321" r="3.2" fill="rgb(5,25,15)" filter="url(#blur07)"/>
<circle cx="629" cy="321" r="3.2" fill="rgb(5,22,14)" filter="url(#blur07)"/>
<circle cx="641.7" cy="321" r="3.2" fill="rgb(5,22,14)" filter="url(#blur07)"/>
<circle cx="654.7" cy="321" r="3.2" fill="rgb(5,17,14)" filter="url(#blur07)"/>
<circle cx="667.5" cy="321" r="3.2" fill="rgb(5,17,14)" filter="url(#blur07)"/>
<circle cx="680.7" cy="321" r="3.2" fill="rgb(5,17,14)" filter="url(#blur07)"/>
<circle cx="533.5" cy="335.9" r="3.8999999999999995" fill="rgb(6,44,19)" stroke="rgb(9,73,28)" stroke-width="1.4" filter="url(#blur07)"/>
<circle cx="546.3" cy="335.9" r="3.8999999999999995" fill="rgb(6,44,19)" stroke="rgb(9,73,28)" stroke-width="1.4" filter="url(#blur07)"/>
<circle cx="559.4" cy="335.9" r="3.8999999999999995" fill="rgb(6,43,18)" stroke="rgb(8,71,27)" stroke-width="1.4" filter="url(#blur07)"/>
<circle cx="572.3" cy="335.9" r="3.8999999999999995" fill="rgb(5,36,17)" stroke="rgb(7,57,22)" stroke-width="1.4" filter="url(#blur07)"/>
<circle cx="585.3" cy="335.9" r="3.8999999999999995" fill="rgb(5,36,17)" stroke="rgb(7,57,22)" stroke-width="1.4" filter="url(#blur07)"/>
<circle cx="598.4" cy="335.9" r="3.8999999999999995" fill="rgb(6,38,17)" stroke="rgb(7,61,23)" stroke-width="1.4" filter="url(#blur07)"/>
<circle cx="616" cy="335.9" r="6.2" fill="rgb(27,192,90)" opacity="0.3" filter="url(#blur1)"/>
<circle cx="616" cy="335.9" r="4.9" fill="rgb(27,192,90)" filter="url(#blur07)"/>
<circle cx="629" cy="335.9" r="6.2" fill="rgb(27,192,90)" opacity="0.3" filter="url(#blur1)"/>
<circle cx="629" cy="335.9" r="4.9" fill="rgb(27,192,90)" filter="url(#blur07)"/>
<circle cx="641.7" cy="335.9" r="6.2" fill="rgb(27,192,90)" opacity="0.3" filter="url(#blur1)"/>
<circle cx="641.7" cy="335.9" r="4.9" fill="rgb(27,192,90)" filter="url(#blur07)"/>
<circle cx="654.7" cy="335.9" r="4" fill="rgb(5,20,14)" filter="url(#blur07)"/>
<circle cx="667.5" cy="335.9" r="4" fill="rgb(5,19,14)" filter="url(#blur07)"/>
<circle cx="680.7" cy="335.9" r="4" fill="rgb(5,20,14)" filter="url(#blur07)"/>
<circle cx="533.5" cy="374.5" r="5.8999999999999995" fill="rgb(23,173,78)" opacity="0.3" filter="url(#blur1)"/>
<circle cx="533.5" cy="374.5" r="4.6" fill="rgb(23,173,78)" filter="url(#blur07)"/>
<circle cx="546.3" cy="374.5" r="5.8999999999999995" fill="rgb(23,173,78)" opacity="0.3" filter="url(#blur1)"/>
<circle cx="546.3" cy="374.5" r="4.6" fill="rgb(23,173,78)" filter="url(#blur07)"/>
<circle cx="559.4" cy="374.5" r="5.8999999999999995" fill="rgb(22,169,75)" opacity="0.3" filter="url(#blur1)"/>
<circle cx="559.4" cy="374.5" r="4.6" fill="rgb(22,169,75)" filter="url(#blur07)"/>
<circle cx="572.3" cy="374.5" r="5.8999999999999995" fill="rgb(23,173,78)" opacity="0.3" filter="url(#blur1)"/>
<circle cx="572.3" cy="374.5" r="4.6" fill="rgb(23,173,78)" filter="url(#blur07)"/>
<circle cx="585.3" cy="374.5" r="5.8999999999999995" fill="rgb(22,169,75)" opacity="0.3" filter="url(#blur1)"/>
<circle cx="585.3" cy="374.5" r="4.6" fill="rgb(22,169,75)" filter="url(#blur07)"/>
<circle cx="598.4" cy="374.5" r="5.8999999999999995" fill="rgb(22,169,75)" opacity="0.3" filter="url(#blur1)"/>
<circle cx="598.4" cy="374.5" r="4.6" fill="rgb(22,169,75)" filter="url(#blur07)"/>
<circle cx="616" cy="374.5" r="2.8" fill="rgb(6,51,20)" filter="url(#blur07)"/>
<circle cx="629" cy="374.5" r="2.8" fill="rgb(6,51,20)" filter="url(#blur07)"/>
<circle cx="641.7" cy="374.5" r="2.8" fill="rgb(6,51,20)" filter="url(#blur07)"/>
<circle cx="654.7" cy="374.5" r="6.7" fill="rgb(22,169,75)" opacity="0.3" filter="url(#blur1)"/>
<circle cx="654.7" cy="374.5" r="5.4" fill="rgb(22,169,75)" filter="url(#blur07)"/>
<circle cx="667.5" cy="374.5" r="6.7" fill="rgb(22,169,75)" opacity="0.3" filter="url(#blur1)"/>
<circle cx="667.5" cy="374.5" r="5.4" fill="rgb(22,169,75)" filter="url(#blur07)"/>
<circle cx="680.7" cy="374.5" r="6.7" fill="rgb(23,173,78)" opacity="0.3" filter="url(#blur1)"/>
<circle cx="680.7" cy="374.5" r="5.4" fill="rgb(23,173,78)" filter="url(#blur07)"/>
<circle cx="533.5" cy="388.7" r="6.8" fill="rgb(27,192,90)" opacity="0.3" filter="url(#blur1)"/>
<circle cx="533.5" cy="388.7" r="5.5" fill="rgb(27,192,90)" filter="url(#blur07)"/>
<circle cx="546.3" cy="388.7" r="6.8" fill="rgb(27,192,90)" opacity="0.3" filter="url(#blur1)"/>
<circle cx="546.3" cy="388.7" r="5.5" fill="rgb(27,192,90)" filter="url(#blur07)"/>
<circle cx="559.4" cy="388.7" r="6.8" fill="rgb(27,192,90)" opacity="0.3" filter="url(#blur1)"/>
<circle cx="559.4" cy="388.7" r="5.5" fill="rgb(27,192,90)" filter="url(#blur07)"/>
<circle cx="572.3" cy="388.7" r="4.5" fill="rgb(8,71,27)" filter="url(#blur07)"/>
<circle cx="585.3" cy="388.7" r="4.5" fill="rgb(6,51,20)" filter="url(#blur07)"/>
<circle cx="598.4" cy="388.7" r="4.5" fill="rgb(6,51,20)" filter="url(#blur07)"/>
<circle cx="616" cy="388.7" r="6.3" fill="rgb(24,180,82)" opacity="0.3" filter="url(#blur1)"/>
<circle cx="616" cy="388.7" r="5" fill="rgb(24,180,82)" filter="url(#blur07)"/>
<circle cx="629" cy="388.7" r="6.3" fill="rgb(24,180,82)" opacity="0.3" filter="url(#blur1)"/>
<circle cx="629" cy="388.7" r="5" fill="rgb(24,180,82)" filter="url(#blur07)"/>
<circle cx="641.7" cy="388.7" r="6.3" fill="rgb(24,180,82)" opacity="0.3" filter="url(#blur1)"/>
<circle cx="641.7" cy="388.7" r="5" fill="rgb(24,180,82)" filter="url(#blur07)"/>
<circle cx="654.7" cy="388.7" r="5.8999999999999995" fill="rgb(20,158,68)" opacity="0.3" filter="url(#blur1)"/>
<circle cx="654.7" cy="388.7" r="3.8999999999999995" fill="rgb(17,136,56)" stroke="rgb(22,165,73)" stroke-width="1.4" filter="url(#blur07)"/>
<circle cx="667.5" cy="388.7" r="5.8999999999999995" fill="rgb(20,158,68)" opacity="0.3" filter="url(#blur1)"/>
<circle cx="667.5" cy="388.7" r="3.8999999999999995" fill="rgb(17,136,56)" stroke="rgb(22,165,73)" stroke-width="1.4" filter="url(#blur07)"/>
<circle cx="680.7" cy="388.7" r="5.8999999999999995" fill="rgb(20,158,68)" opacity="0.3" filter="url(#blur1)"/>
<circle cx="680.7" cy="388.7" r="3.8999999999999995" fill="rgb(17,136,56)" stroke="rgb(22,165,73)" stroke-width="1.4" filter="url(#blur07)"/>
<circle cx="533.5" cy="404.5" r="4.4" fill="rgb(5,35,17)" filter="url(#blur07)"/>
<circle cx="546.3" cy="404.5" r="4.4" fill="rgb(5,35,17)" filter="url(#blur07)"/>
<circle cx="559.4" cy="404.5" r="4.4" fill="rgb(6,38,17)" filter="url(#blur07)"/>
<circle cx="572.3" cy="404.5" r="3.7" fill="rgb(7,51,20)" stroke="rgb(10,87,33)" stroke-width="1.4" filter="url(#blur07)"/>
<circle cx="585.3" cy="404.5" r="3.7" fill="rgb(7,51,20)" stroke="rgb(10,87,33)" stroke-width="1.4" filter="url(#blur07)"/>
<circle cx="598.4" cy="404.5" r="3.7" fill="rgb(7,51,20)" stroke="rgb(10,87,33)" stroke-width="1.4" filter="url(#blur07)"/>
<circle cx="616" cy="404.5" r="5.5" fill="rgb(11,95,36)" filter="url(#blur07)"/>
<circle cx="629" cy="404.5" r="5.5" fill="rgb(11,95,36)" filter="url(#blur07)"/>
<circle cx="641.7" cy="404.5" r="5.5" fill="rgb(11,95,36)" filter="url(#blur07)"/>
<circle cx="654.7" cy="404.5" r="3.8" fill="rgb(5,33,16)" filter="url(#blur07)"/>
<circle cx="667.5" cy="404.5" r="3.8" fill="rgb(5,33,16)" filter="url(#blur07)"/>
<circle cx="680.7" cy="404.5" r="3.8" fill="rgb(6,51,20)" filter="url(#blur07)"/>
<circle cx="533.5" cy="418.7" r="3.7" fill="rgb(5,28,15)" stroke="rgb(6,41,18)" stroke-width="1.4" filter="url(#blur07)"/>
<circle cx="546.3" cy="418.7" r="3.7" fill="rgb(5,28,15)" stroke="rgb(6,41,18)" stroke-width="1.4" filter="url(#blur07)"/>
<circle cx="559.4" cy="418.7" r="3.7" fill="rgb(5,28,15)" stroke="rgb(6,41,18)" stroke-width="1.4" filter="url(#blur07)"/>
<circle cx="572.3" cy="418.7" r="3.7" fill="rgb(6,43,18)" stroke="rgb(8,71,27)" stroke-width="1.4" filter="url(#blur07)"/>
<circle cx="585.3" cy="418.7" r="3.7" fill="rgb(6,43,18)" stroke="rgb(8,71,27)" stroke-width="1.4" filter="url(#blur07)"/>
<circle cx="598.4" cy="418.7" r="3.7" fill="rgb(6,43,18)" stroke="rgb(8,71,27)" stroke-width="1.4" filter="url(#blur07)"/>
<circle cx="616" cy="418.7" r="5.1" fill="rgb(20,158,68)" opacity="0.3" filter="url(#blur1)"/>
<circle cx="616" cy="418.7" r="3.8" fill="rgb(20,158,68)" filter="url(#blur07)"/>
<circle cx="629" cy="418.7" r="4.9" fill="rgb(20,158,68)" opacity="0.3" filter="url(#blur1)"/>
<circle cx="629" cy="418.7" r="3.6" fill="rgb(20,158,68)" filter="url(#blur07)"/>
<circle cx="641.7" cy="418.7" r="5.1" fill="rgb(17,136,56)" opacity="0.3" filter="url(#blur1)"/>
<circle cx="641.7" cy="418.7" r="3.8" fill="rgb(17,136,56)" filter="url(#blur07)"/>
<circle cx="654.7" cy="418.7" r="5.8999999999999995" fill="rgb(19,147,62)" opacity="0.3" filter="url(#blur1)"/>
<circle cx="654.7" cy="418.7" r="4.6" fill="rgb(19,147,62)" filter="url(#blur07)"/>
<circle cx="667.5" cy="418.7" r="5.8999999999999995" fill="rgb(19,147,62)" opacity="0.3" filter="url(#blur1)"/>
<circle cx="667.5" cy="418.7" r="4.6" fill="rgb(19,147,62)" filter="url(#blur07)"/>
<circle cx="680.7" cy="418.7" r="5.8999999999999995" fill="rgb(19,147,62)" opacity="0.3" filter="url(#blur1)"/>
<circle cx="680.7" cy="418.7" r="4.6" fill="rgb(19,147,62)" filter="url(#blur07)"/>
<rect x="83.4" y="493.4" width="12.4" height="118.3" fill="url(#cbF)"/>
<text transform="translate(111,517.0) rotate(-90)" font-family="'Liberation Sans', sans-serif" font-size="12.8" fill="#333" text-anchor="middle" stroke="#333" stroke-width="0.28">5,000.0</text>
<text transform="translate(111,589.6) rotate(-90)" font-family="'Liberation Sans', sans-serif" font-size="12.8" fill="#333" text-anchor="middle" stroke="#333" stroke-width="0.28">100.0</text>
<rect x="124.0" y="491.4" width="474.20000000000005" height="117.89999999999998" fill="#0a0a14"/>
<rect x="124.80" y="492.20" width="14.21" height="37.40" fill="#e8302f"/>
<rect x="140.61" y="492.20" width="14.21" height="37.40" fill="#e8302f"/>
<rect x="156.41" y="492.20" width="14.21" height="37.40" fill="#e8312f"/>
<rect x="172.22" y="492.20" width="14.21" height="37.40" fill="#ee7a2a"/>
<rect x="188.03" y="492.20" width="14.21" height="37.40" fill="#f8a823"/>
<rect x="203.83" y="492.20" width="14.21" height="37.40" fill="#f9ad22"/>
<rect x="219.64" y="492.20" width="14.21" height="37.40" fill="#7ab941"/>
<rect x="235.45" y="492.20" width="14.21" height="37.40" fill="#76b843"/>
<rect x="251.25" y="492.20" width="14.21" height="37.40" fill="#12a352"/>
<rect x="267.06" y="492.20" width="14.21" height="37.40" fill="#13a77a"/>
<rect x="282.87" y="492.20" width="14.21" height="37.40" fill="#0fa699"/>
<rect x="298.67" y="492.20" width="14.21" height="37.40" fill="#169ed8"/>
<rect x="314.48" y="492.20" width="14.21" height="37.40" fill="#2483c6"/>
<rect x="330.29" y="492.20" width="14.21" height="37.40" fill="#2870b7"/>
<rect x="346.09" y="492.20" width="14.21" height="37.40" fill="#3060ad"/>
<rect x="361.90" y="492.20" width="14.21" height="37.40" fill="#3563ae"/>
<rect x="377.71" y="492.20" width="14.21" height="37.40" fill="#3563ae"/>
<rect x="393.51" y="492.20" width="14.21" height="37.40" fill="#3563ae"/>
<rect x="409.32" y="492.20" width="14.21" height="37.40" fill="#3556a8"/>
<rect x="425.13" y="492.20" width="14.21" height="37.40" fill="#3553a5"/>
<rect x="440.93" y="492.20" width="14.21" height="37.40" fill="#3550a3"/>
<rect x="456.74" y="492.20" width="14.21" height="37.40" fill="#3550a3"/>
<rect x="472.55" y="492.20" width="14.21" height="37.40" fill="#3450a3"/>
<rect x="488.35" y="492.20" width="14.21" height="37.40" fill="#3450a2"/>
<rect x="504.16" y="492.20" width="14.21" height="37.40" fill="#344da2"/>
<rect x="519.97" y="492.20" width="14.21" height="37.40" fill="#344ba0"/>
<rect x="535.77" y="492.20" width="14.21" height="37.40" fill="#3349a0"/>
<rect x="551.58" y="492.20" width="14.21" height="37.40" fill="#34479e"/>
<rect x="567.39" y="492.20" width="14.21" height="37.40" fill="#12153f"/>
<rect x="583.19" y="492.20" width="14.21" height="37.40" fill="#13153f"/>
<rect x="124.80" y="531.20" width="14.21" height="38.00" fill="#8cc540"/>
<rect x="140.61" y="531.20" width="14.21" height="38.00" fill="#14a66f"/>
<rect x="156.41" y="531.20" width="14.21" height="38.00" fill="#11a55d"/>
<rect x="172.22" y="531.20" width="14.21" height="38.00" fill="#15acd0"/>
<rect x="188.03" y="531.20" width="14.21" height="38.00" fill="#10a560"/>
<rect x="203.83" y="531.20" width="14.21" height="38.00" fill="#13aac5"/>
<rect x="219.64" y="531.20" width="14.21" height="38.00" fill="#11a35c"/>
<rect x="235.45" y="531.20" width="14.21" height="38.00" fill="#12a89a"/>
<rect x="251.25" y="531.20" width="14.21" height="38.00" fill="#1bb4ec"/>
<rect x="267.06" y="531.20" width="14.21" height="38.00" fill="#2a86c9"/>
<rect x="282.87" y="531.20" width="14.21" height="38.00" fill="#2ba84a"/>
<rect x="298.67" y="531.20" width="14.21" height="38.00" fill="#3560ad"/>
<rect x="314.48" y="531.20" width="14.21" height="38.00" fill="#2a7cc0"/>
<rect x="330.29" y="531.20" width="14.21" height="38.00" fill="#3461aa"/>
<rect x="346.09" y="531.20" width="14.21" height="38.00" fill="#2a7dc1"/>
<rect x="361.90" y="531.20" width="14.21" height="38.00" fill="#2385ca"/>
<rect x="377.71" y="531.20" width="14.21" height="38.00" fill="#2484c9"/>
<rect x="393.51" y="531.20" width="14.21" height="38.00" fill="#2d6fb9"/>
<rect x="409.32" y="531.20" width="14.21" height="38.00" fill="#2f6ab7"/>
<rect x="425.13" y="531.20" width="14.21" height="38.00" fill="#1a9edb"/>
<rect x="440.93" y="531.20" width="14.21" height="38.00" fill="#1a9edb"/>
<rect x="456.74" y="531.20" width="14.21" height="38.00" fill="#306bb5"/>
<rect x="472.55" y="531.20" width="14.21" height="38.00" fill="#316bb5"/>
<rect x="488.35" y="531.20" width="14.21" height="38.00" fill="#3069b5"/>
<rect x="504.16" y="531.20" width="14.21" height="38.00" fill="#2f70ba"/>
<rect x="519.97" y="531.20" width="14.21" height="38.00" fill="#3070ba"/>
<rect x="535.77" y="531.20" width="14.21" height="38.00" fill="#3266b2"/>
<rect x="551.58" y="531.20" width="14.21" height="38.00" fill="#316cb6"/>
<rect x="567.39" y="531.20" width="14.21" height="38.00" fill="#326db6"/>
<rect x="583.19" y="531.20" width="14.21" height="38.00" fill="#3565b1"/>
<rect x="124.80" y="570.80" width="14.21" height="37.70" fill="#12163e"/>
<rect x="140.61" y="570.80" width="14.21" height="37.70" fill="#241f5e"/>
<rect x="156.41" y="570.80" width="14.21" height="37.70" fill="#23205e"/>
<rect x="172.22" y="570.80" width="14.21" height="37.70" fill="#111540"/>
<rect x="188.03" y="570.80" width="14.21" height="37.70" fill="#2e3a95"/>
<rect x="203.83" y="570.80" width="14.21" height="37.70" fill="#2d3589"/>
<rect x="219.64" y="570.80" width="14.21" height="37.70" fill="#3042a0"/>
<rect x="235.45" y="570.80" width="14.21" height="37.70" fill="#111541"/>
<rect x="251.25" y="570.80" width="14.21" height="37.70" fill="#11143e"/>
<rect x="267.06" y="570.80" width="14.21" height="37.70" fill="#272265"/>
<rect x="282.87" y="570.80" width="14.21" height="37.70" fill="#3244a0"/>
<rect x="298.67" y="570.80" width="14.21" height="37.70" fill="#11143f"/>
<rect x="314.48" y="570.80" width="14.21" height="37.70" fill="#11143e"/>
<rect x="330.29" y="570.80" width="14.21" height="37.70" fill="#11143e"/>
<rect x="346.09" y="570.80" width="14.21" height="37.70" fill="#221e5a"/>
<rect x="361.90" y="570.80" width="14.21" height="37.70" fill="#2c2670"/>
<rect x="377.71" y="570.80" width="14.21" height="37.70" fill="#12143e"/>
<rect x="393.51" y="570.80" width="14.21" height="37.70" fill="#12143e"/>
<rect x="409.32" y="570.80" width="14.21" height="37.70" fill="#303c98"/>
<rect x="425.13" y="570.80" width="14.21" height="37.70" fill="#11143e"/>
<rect x="440.93" y="570.80" width="14.21" height="37.70" fill="#11143e"/>
<rect x="456.74" y="570.80" width="14.21" height="37.70" fill="#11143e"/>
<rect x="472.55" y="570.80" width="14.21" height="37.70" fill="#11143e"/>
<rect x="488.35" y="570.80" width="14.21" height="37.70" fill="#11143e"/>
<rect x="504.16" y="570.80" width="14.21" height="37.70" fill="#11143e"/>
<rect x="519.97" y="570.80" width="14.21" height="37.70" fill="#11143e"/>
<rect x="535.77" y="570.80" width="14.21" height="37.70" fill="#11143e"/>
<rect x="551.58" y="570.80" width="14.21" height="37.70" fill="#11143e"/>
<rect x="567.39" y="570.80" width="14.21" height="37.70" fill="#12143e"/>
<rect x="583.19" y="570.80" width="14.21" height="37.70" fill="#12143e"/>
<text x="604.4" y="511.5" font-family="'Liberation Sans', sans-serif" font-size="12.8" fill="#222" stroke="#222" stroke-width="0.28">µArray/Au</text>
<text x="604.4" y="554" font-family="'Liberation Sans', sans-serif" font-size="12.8" fill="#222" stroke="#222" stroke-width="0.28">Nitrocellulose</text>
<text x="608" y="598.3" font-family="'Liberation Sans', sans-serif" font-size="12.8" fill="#222" stroke="#222" stroke-width="0.28">Glass</text>
<text transform="translate(125.40,616.1) rotate(90)" font-family="'Liberation Sans', sans-serif" font-size="12.95" fill="#e0393e" stroke="#e0393e" stroke-width="0.28">[+] Scl-70 (tru)</text>
<text transform="translate(141.21,616.1) rotate(90)" font-family="'Liberation Sans', sans-serif" font-size="12.95" fill="#e0393e" stroke="#e0393e" stroke-width="0.28">[+] CENP B</text>
<text transform="translate(157.02,616.1) rotate(90)" font-family="'Liberation Sans', sans-serif" font-size="12.95" fill="#e0393e" stroke="#e0393e" stroke-width="0.28">[+] Jo-1</text>
<text transform="translate(172.96,634.2) rotate(90)" font-family="'Liberation Sans', sans-serif" font-size="12.95" fill="#222" stroke="#222" stroke-width="0.28">TPO (thyroperoxidase)</text>
<text transform="translate(188.91,616.1) rotate(90)" font-family="'Liberation Sans', sans-serif" font-size="12.95" fill="#e0393e" stroke="#e0393e" stroke-width="0.28">[+] Ro 52/SSA</text>
<text transform="translate(204.86,634.2) rotate(90)" font-family="'Liberation Sans', sans-serif" font-size="12.95" fill="#222" stroke="#222" stroke-width="0.28">BB′</text>
<text transform="translate(220.80,616.1) rotate(90)" font-family="'Liberation Sans', sans-serif" font-size="12.95" fill="#e0393e" stroke="#e0393e" stroke-width="0.28">[+] Ro 60/SS-A (bovine)</text>
<text transform="translate(236.75,634.2) rotate(90)" font-family="'Liberation Sans', sans-serif" font-size="12.95" fill="#222" stroke="#222" stroke-width="0.28">Rubella Ag</text>
<text transform="translate(252.64,616.1) rotate(90)" font-family="'Liberation Sans', sans-serif" font-size="12.95" fill="#e0393e" stroke="#e0393e" stroke-width="0.28">[+] TG (thyroglobulin)</text>
<text transform="translate(268.52,634.2) rotate(90)" font-family="'Liberation Sans', sans-serif" font-size="12.95" fill="#222" stroke="#222" stroke-width="0.28">C1q</text>
<text transform="translate(284.41,634.2) rotate(90)" font-family="'Liberation Sans', sans-serif" font-size="12.95" fill="#222" stroke="#222" stroke-width="0.28">Rubeola (measles) Ag</text>
<text transform="translate(300.30,634.2) rotate(90)" font-family="'Liberation Sans', sans-serif" font-size="12.95" fill="#222" stroke="#222" stroke-width="0.28">PM/Scl 75</text>
<text transform="translate(316.18,634.2) rotate(90)" font-family="'Liberation Sans', sans-serif" font-size="12.95" fill="#222" stroke="#222" stroke-width="0.28">GBM-dis.</text>
<text transform="translate(332.14,634.2) rotate(90)" font-family="'Liberation Sans', sans-serif" font-size="12.95" fill="#222" stroke="#222" stroke-width="0.28">Mumps Ag</text>
<text transform="translate(348.10,634.2) rotate(90)" font-family="'Liberation Sans', sans-serif" font-size="12.95" fill="#222" stroke="#222" stroke-width="0.28">GBM-undis.</text>
<text transform="translate(364.10,634.2) rotate(90)" font-family="'Liberation Sans', sans-serif" font-size="12.95" fill="#222" stroke="#222" stroke-width="0.28">U1-C</text>
<text transform="translate(380.11,634.2) rotate(90)" font-family="'Liberation Sans', sans-serif" font-size="12.95" fill="#222" stroke="#222" stroke-width="0.28">Intrinsic factor</text>
<text transform="translate(396.12,634.2) rotate(90)" font-family="'Liberation Sans', sans-serif" font-size="12.95" fill="#222" stroke="#222" stroke-width="0.28">Tissue transglutaminase</text>
<text transform="translate(412.12,634.2) rotate(90)" font-family="'Liberation Sans', sans-serif" font-size="12.95" fill="#222" stroke="#222" stroke-width="0.28">PM/Scl 100</text>
<text transform="translate(428.13,634.2) rotate(90)" font-family="'Liberation Sans', sans-serif" font-size="12.95" fill="#222" stroke="#222" stroke-width="0.28">Sm/RNP</text>
<text transform="translate(444.14,634.2) rotate(90)" font-family="'Liberation Sans', sans-serif" font-size="12.95" fill="#222" stroke="#222" stroke-width="0.28">U1-68</text>
<text transform="translate(460.29,634.2) rotate(90)" font-family="'Liberation Sans', sans-serif" font-size="12.95" fill="#222" stroke="#222" stroke-width="0.28">Genomic ds DNA</text>
<text transform="translate(476.45,634.2) rotate(90)" font-family="'Liberation Sans', sans-serif" font-size="12.95" fill="#222" stroke="#222" stroke-width="0.28">Plasmid dsDNA</text>
<text transform="translate(492.46,634.2) rotate(90)" font-family="'Liberation Sans', sans-serif" font-size="12.95" fill="#222" stroke="#222" stroke-width="0.28">Actin (Rabbit muscle)</text>
<text transform="translate(508.46,634.2) rotate(90)" font-family="'Liberation Sans', sans-serif" font-size="12.95" fill="#222" stroke="#222" stroke-width="0.28">U1-A</text>
<text transform="translate(524.47,634.2) rotate(90)" font-family="'Liberation Sans', sans-serif" font-size="12.95" fill="#222" stroke="#222" stroke-width="0.28">La/SSB</text>
<text transform="translate(540.43,634.2) rotate(90)" font-family="'Liberation Sans', sans-serif" font-size="12.95" fill="#222" stroke="#222" stroke-width="0.28">Ku</text>
<text transform="translate(556.38,634.2) rotate(90)" font-family="'Liberation Sans', sans-serif" font-size="12.95" fill="#222" stroke="#222" stroke-width="0.28">PL-12</text>
<text transform="translate(572.34,634.2) rotate(90)" font-family="'Liberation Sans', sans-serif" font-size="12.95" fill="#222" stroke="#222" stroke-width="0.28">PCNA</text>
<text transform="translate(588.30,634.2) rotate(90)" font-family="'Liberation Sans', sans-serif" font-size="12.95" fill="#3a8fd0" stroke="#3a8fd0" stroke-width="0.28">Average background</text>
</svg>
</body></html>
